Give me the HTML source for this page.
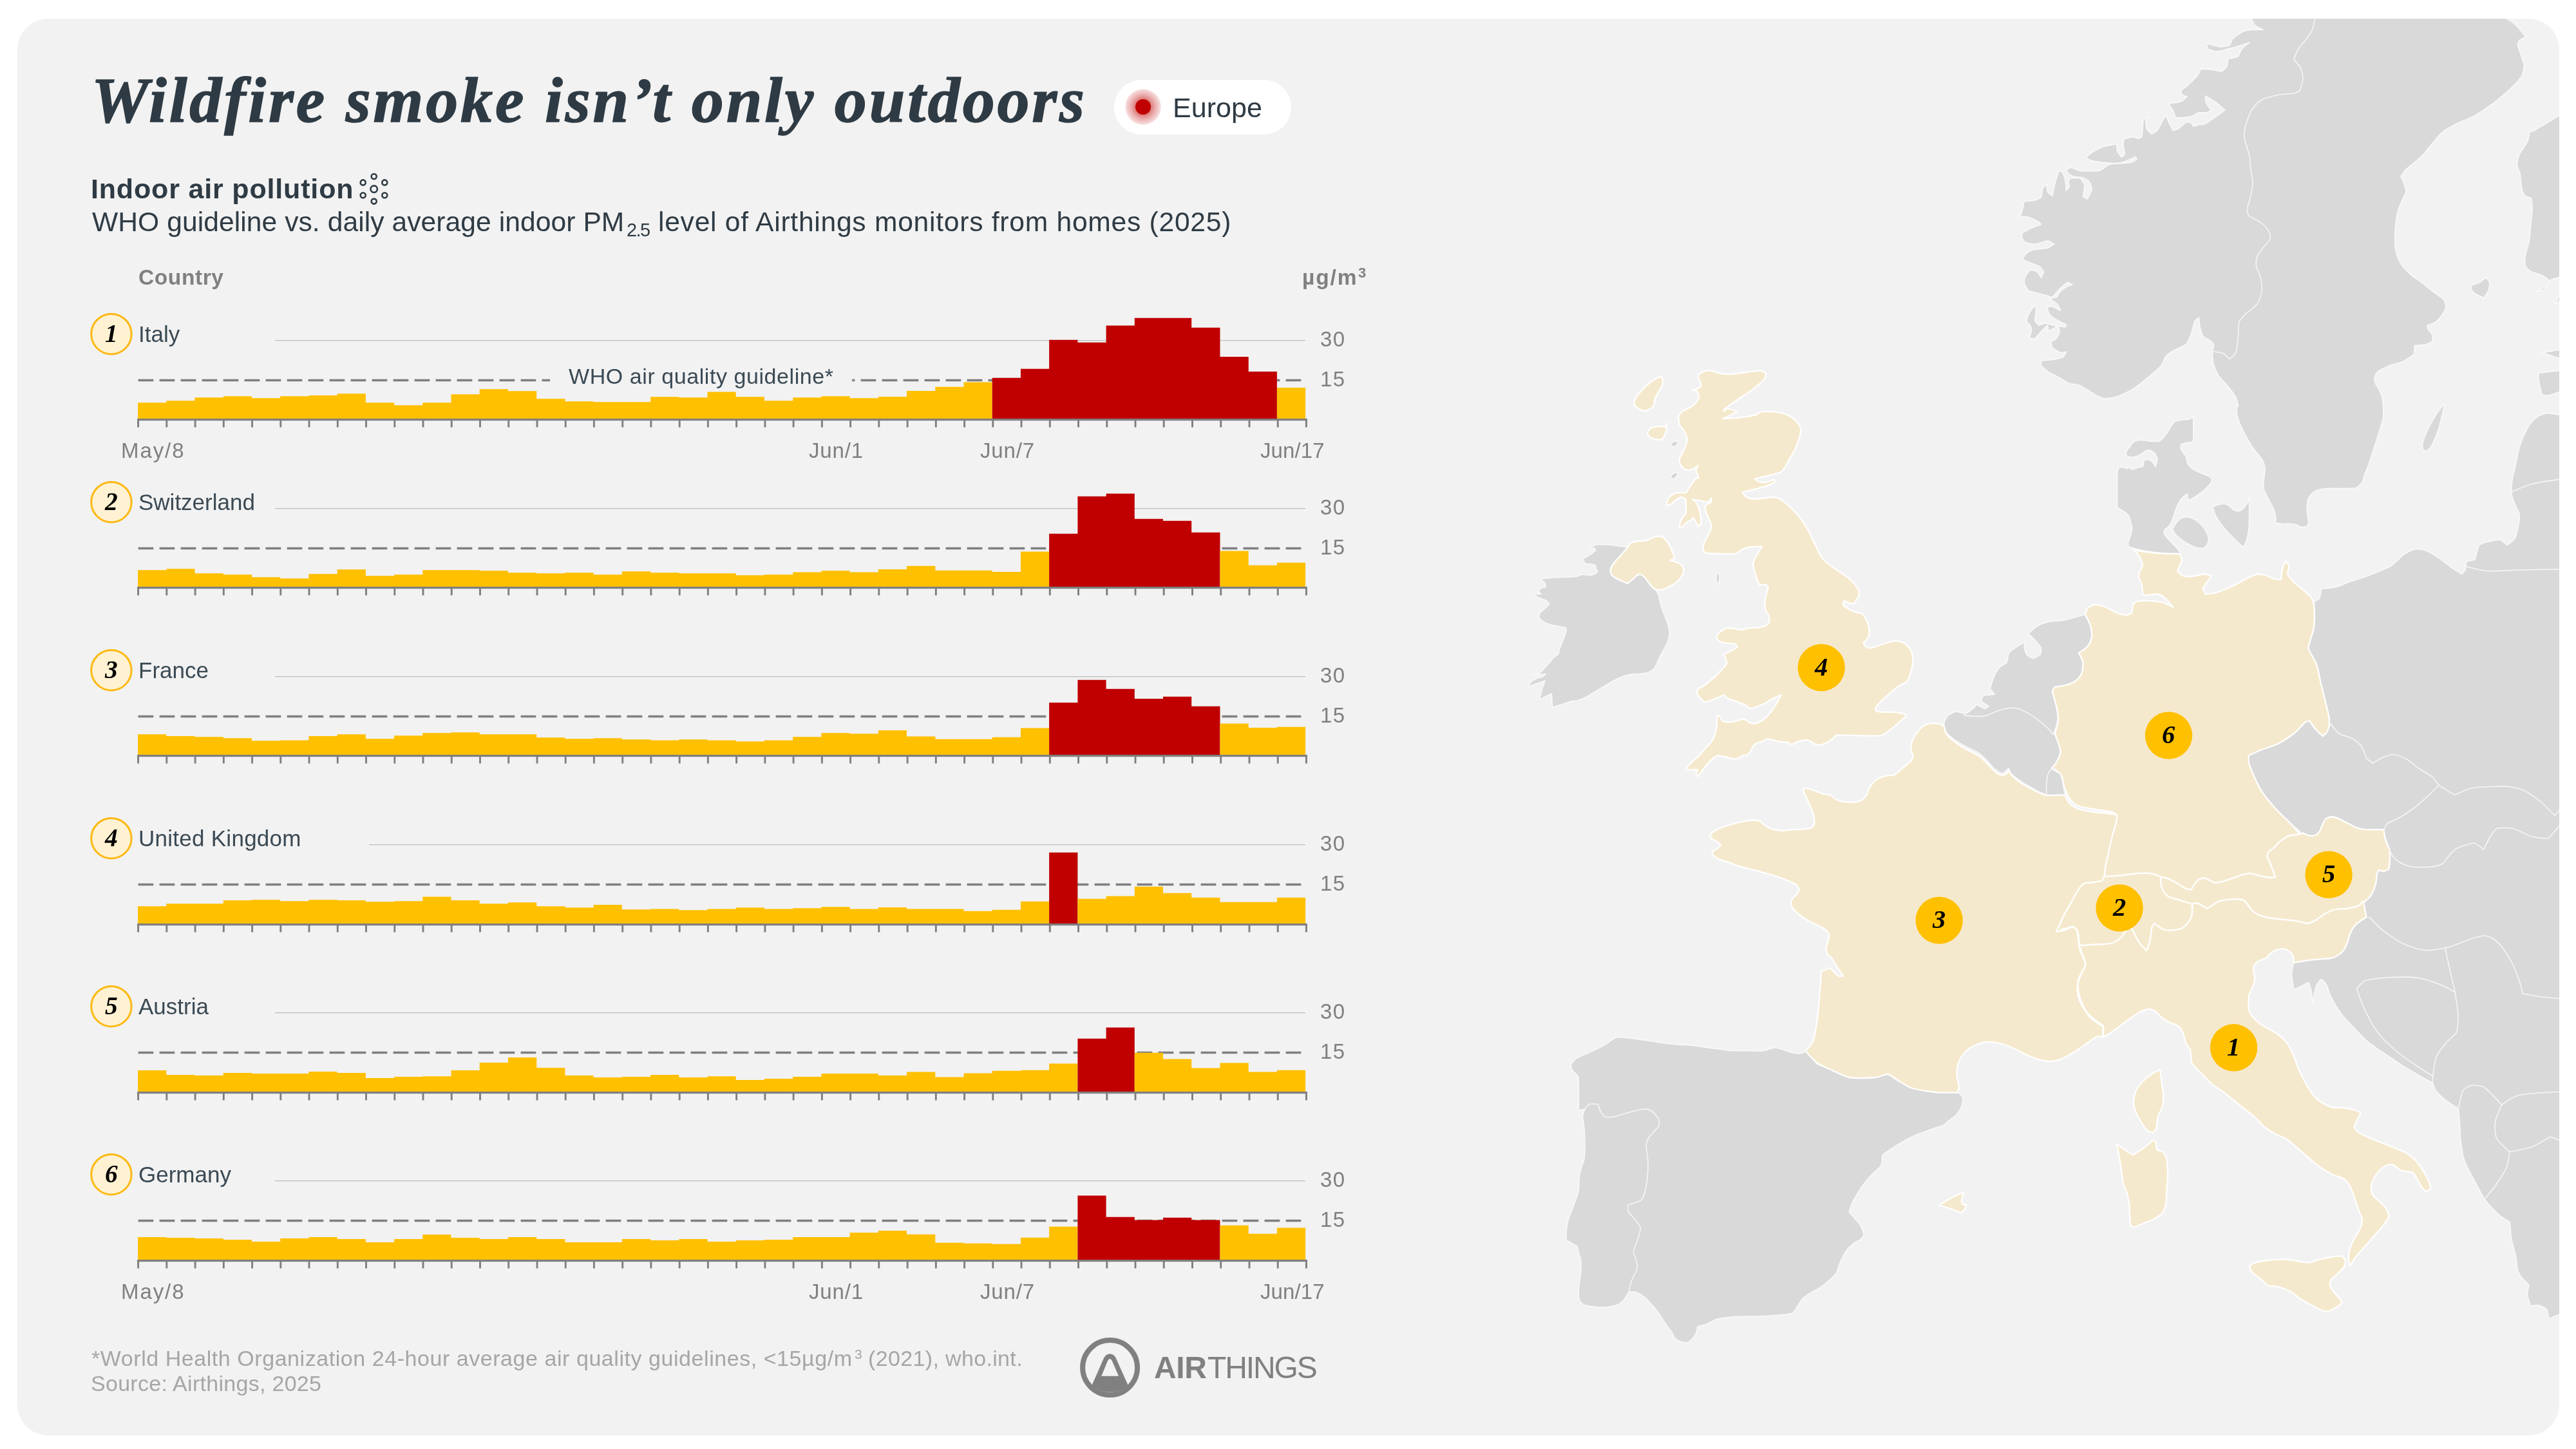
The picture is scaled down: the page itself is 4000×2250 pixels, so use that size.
<!DOCTYPE html>
<html><head><meta charset="utf-8"><title>Wildfire smoke isn’t only outdoors</title>
<style>
html,body{margin:0;padding:0;background:#fff;}
body{width:4000px;height:2250px;position:relative;overflow:hidden;font-family:"Liberation Sans",sans-serif;}
#card{position:absolute;left:27px;top:29px;width:3947px;height:2200px;border-radius:48px;background:#F2F2F2;overflow:hidden;}
.t{position:absolute;white-space:nowrap;line-height:1;will-change:transform;}
svg{position:absolute;left:0;top:0;}
sup,sub{line-height:0;}
</style></head><body>
<div id="card">
<svg id="map" width="3947" height="2200" viewBox="27 29 3947 2200">
<g stroke="#F8F8F8" stroke-width="1.8" stroke-linejoin="round">
<path d="M3496.0 29.0C3496.8 31.1 3499.9 38.0 3502.0 40.0C3504.1 42.0 3514.0 46.0 3514.0 46.0C3514.0 46.0 3493.6 45.5 3487.0 47.5C3480.6 49.4 3470.3 57.1 3467.0 60.0C3464.8 62.0 3462.9 69.5 3462.0 70.0C3461.1 70.6 3451.8 72.9 3447.0 72.5C3441.3 72.0 3426.0 67.0 3426.0 67.0C3426.0 67.0 3427.8 75.8 3428.0 76.0C3428.3 76.2 3438.0 80.2 3442.0 80.0C3447.4 79.7 3458.7 76.3 3467.0 74.0C3475.5 71.7 3493.0 66.0 3493.0 66.0C3493.0 66.0 3485.0 71.4 3482.0 75.0C3478.9 78.7 3476.0 87.0 3474.5 88.0C3473.0 89.0 3459.5 91.0 3459.5 91.0C3459.5 91.0 3459.1 100.3 3458.0 102.5C3456.9 104.7 3450.4 110.8 3449.5 111.0C3448.5 111.2 3437.4 108.2 3432.0 107.5C3427.0 106.9 3417.0 107.0 3417.0 107.0C3417.0 107.0 3414.3 114.4 3412.0 117.5C3409.1 121.3 3403.8 126.1 3399.5 130.0C3395.2 133.9 3386.0 141.0 3386.0 141.0C3386.0 141.0 3388.8 147.3 3389.5 148.0C3390.2 148.7 3396.0 150.0 3396.0 150.0C3396.0 150.0 3390.0 156.4 3387.0 157.5C3383.0 159.0 3367.0 161.0 3367.0 161.0C3367.0 161.0 3372.7 168.8 3374.5 172.5C3376.1 175.8 3378.0 183.0 3378.0 183.0C3378.0 183.0 3387.6 183.0 3392.0 182.5C3396.2 182.0 3400.8 181.2 3404.5 180.0C3408.0 178.8 3411.2 175.7 3414.5 175.0C3417.9 174.3 3424.5 175.5 3427.0 175.0C3428.9 174.6 3433.5 171.0 3433.5 171.0C3433.5 171.0 3427.3 163.3 3426.0 160.0C3424.7 156.9 3424.5 149.0 3424.5 149.0C3424.5 149.0 3437.0 156.3 3442.0 160.0C3446.5 163.3 3454.5 171.0 3454.5 171.0C3454.5 171.0 3432.1 187.7 3425.5 191.5C3422.3 193.4 3417.8 193.2 3414.5 194.0C3411.7 194.7 3406.0 196.0 3406.0 196.0C3406.0 196.0 3402.4 190.2 3402.0 190.0C3401.6 189.8 3395.9 189.3 3394.5 190.0C3392.4 191.0 3385.3 197.9 3382.0 200.0C3379.8 201.4 3374.5 202.5 3374.5 202.5C3374.5 202.5 3369.8 193.9 3368.0 190.0C3366.3 186.4 3363.5 179.0 3363.5 179.0C3363.5 179.0 3359.7 184.6 3358.0 187.5C3355.7 191.4 3352.0 199.5 3349.5 202.5C3347.6 204.8 3341.0 208.0 3341.0 208.0C3341.0 208.0 3334.4 202.2 3333.5 200.0C3332.5 197.5 3331.9 186.1 3332.0 185.0C3332.1 184.4 3336.0 181.0 3336.0 181.0C3336.0 181.0 3328.4 185.2 3328.0 186.0C3327.6 186.9 3327.3 195.6 3327.0 200.0C3326.7 204.2 3326.0 212.4 3326.0 212.5C3326.0 212.6 3320.9 215.0 3319.5 215.0C3318.1 215.0 3314.0 212.4 3312.0 212.5C3309.3 212.6 3298.0 216.0 3298.0 216.0C3298.0 216.0 3296.8 222.0 3297.0 225.0C3297.2 228.8 3299.6 238.2 3299.5 239.0C3299.4 239.6 3294.5 244.0 3294.5 244.0C3294.5 244.0 3289.0 237.7 3288.0 235.0C3287.0 232.3 3287.0 223.5 3287.0 223.5C3287.0 223.5 3273.2 225.4 3267.0 227.5C3260.8 229.6 3254.2 233.1 3249.5 236.0C3245.5 238.5 3238.5 245.0 3238.5 245.0C3238.5 245.0 3245.6 249.1 3249.5 250.0C3255.1 251.3 3264.9 252.5 3272.0 253.0C3278.7 253.5 3285.5 254.4 3292.0 253.0C3299.3 251.4 3316.0 243.5 3316.0 243.5C3316.0 243.5 3318.0 247.5 3318.0 247.5C3318.0 247.5 3311.0 251.8 3307.0 252.5C3300.0 253.8 3281.6 253.8 3276.0 255.0C3273.0 255.6 3269.8 259.3 3267.0 261.0C3264.6 262.5 3261.9 264.7 3259.5 265.0C3254.1 265.6 3236.6 265.8 3229.5 265.0C3225.0 264.5 3219.0 260.2 3217.0 260.0C3215.3 259.8 3208.5 263.0 3208.5 263.0C3208.5 263.0 3210.7 268.7 3212.0 270.0C3213.3 271.3 3216.8 273.3 3219.5 274.0C3223.2 275.0 3230.7 274.7 3234.5 276.0C3238.0 277.2 3243.2 280.7 3244.5 282.5C3245.8 284.3 3248.3 292.7 3248.0 295.0C3247.7 297.4 3241.0 309.0 3241.0 309.0C3241.0 309.0 3234.5 305.0 3234.5 305.0C3234.5 305.0 3237.4 290.0 3237.0 287.5C3236.6 285.2 3230.4 276.9 3229.5 276.5C3228.6 276.1 3214.5 276.5 3214.5 276.5C3214.5 276.5 3212.2 280.7 3212.0 282.5C3211.8 284.3 3213.3 288.9 3213.0 290.0C3212.7 291.1 3208.5 296.0 3208.5 296.0C3208.5 296.0 3208.1 284.9 3207.0 280.0C3206.0 275.3 3202.5 267.2 3202.0 266.5C3201.7 266.1 3197.0 265.0 3197.0 265.0C3197.0 265.0 3192.7 278.5 3191.0 285.0C3189.4 291.3 3187.0 304.0 3187.0 304.0C3187.0 304.0 3180.2 299.0 3179.5 297.5C3178.8 296.0 3178.5 286.0 3178.5 286.0C3178.5 286.0 3172.9 290.5 3172.0 292.5C3170.9 294.9 3170.1 305.1 3169.5 306.0C3168.9 306.9 3163.1 310.1 3159.5 311.0C3155.1 312.1 3143.0 312.5 3143.0 312.5C3143.0 312.5 3141.8 319.2 3141.0 322.5C3140.0 326.4 3137.0 336.0 3137.0 336.0C3137.0 336.0 3147.4 336.7 3152.0 338.0C3156.4 339.3 3161.6 342.2 3164.5 344.0C3166.4 345.2 3169.5 348.5 3169.5 348.5C3169.5 348.5 3156.9 352.7 3152.0 355.0C3147.7 357.0 3140.4 362.0 3140.0 362.5C3139.7 362.9 3139.5 368.5 3140.0 370.0C3140.5 371.5 3143.3 375.4 3144.5 376.0C3146.3 376.8 3154.8 379.3 3159.5 379.0C3164.9 378.7 3176.6 374.0 3179.5 374.0C3181.7 374.0 3189.5 379.0 3189.5 379.0C3189.5 379.0 3183.1 384.0 3179.5 385.0C3174.3 386.5 3162.6 386.5 3157.0 388.0C3153.0 389.1 3148.5 391.8 3146.0 394.0C3143.6 396.1 3140.0 403.0 3140.0 403.0C3140.0 403.0 3148.0 406.4 3152.0 408.0C3156.5 409.8 3164.1 412.1 3167.0 414.0C3169.4 415.6 3173.5 422.3 3173.5 422.5C3173.5 422.7 3169.5 431.0 3169.5 431.0C3169.5 431.0 3163.6 422.1 3162.0 421.0C3160.5 419.9 3152.0 419.0 3152.0 419.0C3152.0 419.0 3145.7 427.0 3144.5 430.0C3143.4 432.6 3142.9 437.7 3143.5 440.0C3144.1 442.5 3148.3 450.4 3150.0 451.5C3151.8 452.7 3161.3 454.5 3167.0 456.0C3173.2 457.7 3186.7 461.6 3187.0 461.5C3187.3 461.4 3195.6 451.3 3199.5 447.5C3202.9 444.2 3210.4 438.5 3210.5 438.5C3210.6 438.5 3218.0 442.0 3218.0 442.0C3218.0 442.0 3210.3 444.5 3207.0 446.5C3203.7 448.5 3200.0 451.7 3198.0 454.0C3196.4 455.9 3195.3 460.5 3194.5 461.0C3193.5 461.6 3182.0 464.0 3182.0 464.0C3182.0 464.0 3192.1 469.9 3194.5 472.5C3196.6 474.8 3199.5 482.5 3199.5 482.5C3199.5 482.5 3189.8 476.8 3187.0 476.0C3184.8 475.4 3178.5 476.5 3178.5 476.5C3178.5 476.5 3180.3 485.1 3182.0 487.5C3183.7 490.0 3188.3 493.7 3192.0 496.0C3196.4 498.8 3208.5 504.0 3208.5 504.0C3208.5 504.0 3207.0 508.0 3207.0 508.0C3207.0 508.0 3195.7 505.9 3194.5 506.0C3193.6 506.1 3191.4 508.9 3189.5 510.0C3187.2 511.3 3180.5 514.0 3180.5 514.0C3180.5 514.0 3179.5 505.0 3179.5 505.0C3179.5 505.0 3172.8 511.6 3169.5 515.0C3166.2 518.5 3160.3 525.6 3159.5 526.0C3158.8 526.4 3151.0 525.0 3151.0 525.0C3151.0 525.0 3154.4 514.9 3154.5 512.5C3154.6 510.6 3153.1 506.9 3152.0 505.0C3150.9 503.2 3147.1 500.4 3147.0 500.0C3146.9 499.5 3147.9 492.4 3149.5 489.0C3151.6 484.7 3159.5 474.0 3159.5 474.0C3159.5 474.0 3162.0 478.2 3162.0 480.0C3162.1 483.3 3159.7 495.5 3160.0 497.5C3160.2 499.0 3166.0 505.0 3166.0 505.0C3166.0 505.0 3173.9 501.8 3177.0 502.0C3181.1 502.3 3195.6 506.8 3196.0 507.0C3196.3 507.2 3198.2 513.3 3198.0 515.0C3197.7 516.9 3195.2 522.9 3193.5 525.0C3191.8 527.1 3184.5 531.0 3184.5 531.0C3184.5 531.0 3185.9 538.8 3187.0 540.0C3188.3 541.4 3197.4 546.9 3199.5 547.5C3201.2 548.0 3208.5 546.0 3208.5 546.0C3208.5 546.0 3205.5 553.3 3204.5 554.0C3203.4 554.8 3196.3 556.8 3192.0 557.5C3186.2 558.5 3169.5 560.0 3169.5 560.0C3169.5 560.0 3168.9 566.6 3169.5 567.5C3170.3 568.7 3176.4 574.7 3180.5 577.5C3185.1 580.6 3191.8 583.1 3197.0 586.0C3202.1 588.8 3206.8 593.0 3212.0 595.0C3217.1 597.0 3223.0 596.2 3228.0 598.0C3233.0 599.8 3237.4 603.3 3242.0 606.0C3246.8 608.8 3252.8 612.8 3257.0 615.0C3260.2 616.7 3264.1 618.9 3267.0 619.0C3271.1 619.1 3280.6 618.1 3287.0 616.0C3294.5 613.5 3304.1 608.9 3312.0 604.0C3320.3 598.8 3329.7 591.1 3337.0 585.0C3343.6 579.5 3351.8 572.5 3356.0 567.5C3359.0 563.9 3359.4 558.6 3362.0 555.0C3364.6 551.4 3368.2 548.4 3372.0 546.0C3377.4 542.7 3391.2 537.8 3394.5 535.0C3397.2 532.6 3400.0 525.2 3402.0 520.0C3404.2 514.0 3406.5 502.2 3408.0 499.0C3408.9 497.1 3414.5 493.5 3414.5 493.5C3414.5 493.5 3415.0 502.9 3416.0 507.5C3417.1 512.3 3419.5 520.5 3421.0 522.5C3422.4 524.4 3429.2 526.8 3432.0 529.0C3434.4 530.9 3437.8 535.3 3438.0 536.0C3438.2 536.7 3435.6 542.6 3435.5 546.0C3435.3 550.8 3435.5 558.9 3437.0 565.0C3438.5 571.1 3441.1 577.2 3444.5 582.5C3448.2 588.3 3454.9 594.2 3459.5 600.0C3463.9 605.6 3469.3 612.3 3472.0 617.5C3474.1 621.6 3475.5 631.0 3475.5 631.0C3475.5 631.0 3474.7 627.2 3474.7 627.2C3474.7 627.2 3473.3 631.9 3473.1 634.4C3472.9 637.0 3472.9 640.4 3473.4 643.3C3474.0 646.6 3475.2 650.6 3476.5 654.1C3478.0 658.1 3480.3 663.2 3482.4 667.6C3484.7 672.3 3487.6 677.9 3490.5 682.8C3493.3 687.7 3496.5 693.0 3499.5 697.2C3502.2 701.0 3505.9 704.5 3508.4 707.9C3510.7 711.1 3513.3 714.5 3514.7 717.8C3516.0 720.9 3516.7 724.3 3516.9 727.7C3517.1 731.1 3516.3 734.9 3516.0 738.4C3515.6 742.0 3514.8 745.6 3514.7 749.2C3514.6 752.8 3514.3 756.5 3515.2 760.0C3516.3 763.9 3518.9 768.4 3521.0 772.5C3523.1 776.9 3526.2 781.8 3528.2 786.0C3529.9 789.8 3531.7 794.5 3532.7 797.7C3533.4 800.0 3533.8 802.5 3533.9 804.8C3534.0 807.2 3533.2 812.0 3533.2 812.0C3533.2 812.0 3540.6 813.2 3544.3 813.5C3548.6 813.7 3554.8 813.1 3558.7 813.5C3561.7 813.7 3565.3 814.8 3567.6 815.6C3569.5 816.3 3571.5 818.1 3573.0 818.3C3574.7 818.5 3580.2 817.8 3581.1 817.4C3581.9 817.0 3584.5 813.9 3584.7 812.9C3584.9 811.7 3584.1 806.3 3583.8 803.1C3583.4 799.0 3582.4 793.2 3582.4 788.7C3582.4 784.5 3582.7 779.5 3583.8 776.1C3584.8 773.0 3587.0 769.4 3589.2 767.2C3591.3 765.0 3594.9 762.7 3598.2 761.4C3601.6 760.0 3606.0 759.0 3610.0 758.7C3619.8 758.2 3650.9 759.0 3657.0 758.0C3659.9 757.5 3666.1 751.7 3668.0 749.0C3669.9 746.3 3670.5 740.6 3672.0 736.5C3673.5 732.3 3675.6 728.3 3677.0 724.0C3681.7 709.8 3696.2 668.3 3700.0 651.0C3702.2 640.9 3700.4 627.7 3699.5 620.0C3698.9 614.8 3696.2 608.8 3694.5 605.0C3693.3 602.3 3690.7 600.3 3689.5 597.5C3688.2 594.6 3686.8 589.4 3687.0 587.5C3687.2 585.6 3690.0 579.1 3692.0 577.5C3694.8 575.2 3704.4 570.2 3711.0 567.5C3717.7 564.8 3725.8 563.9 3732.0 561.0C3737.9 558.2 3746.9 551.6 3748.0 550.0C3749.0 548.6 3749.5 536.5 3749.5 536.5C3749.5 536.5 3762.4 536.1 3767.0 535.0C3770.6 534.1 3776.9 530.1 3777.0 530.0C3777.1 529.9 3777.8 522.1 3777.0 520.0C3776.2 517.8 3770.3 511.7 3769.5 510.0C3769.0 509.0 3769.5 505.0 3769.5 505.0C3769.5 505.0 3778.7 502.4 3782.0 500.0C3785.4 497.6 3789.3 492.8 3792.0 489.0C3794.5 485.5 3797.8 479.6 3798.0 477.5C3798.2 475.4 3796.2 467.2 3794.5 465.0C3792.5 462.5 3784.4 457.8 3779.5 454.0C3774.1 449.8 3767.9 444.6 3762.0 440.0C3755.8 435.2 3747.8 430.4 3742.0 425.0C3736.4 419.8 3730.7 414.1 3727.0 407.5C3723.3 400.9 3720.6 392.8 3719.5 385.0C3718.2 376.2 3718.9 364.2 3719.5 355.0C3720.0 346.6 3721.3 337.1 3723.0 330.0C3724.4 323.9 3727.3 317.9 3729.5 312.5C3731.5 307.4 3735.7 300.6 3736.0 297.5C3736.3 294.4 3733.3 286.4 3732.0 282.5C3731.0 279.5 3728.0 274.2 3728.0 274.0C3728.1 273.8 3733.5 265.9 3737.0 262.5C3742.2 257.4 3752.8 250.2 3759.5 243.5C3765.9 237.1 3771.2 229.1 3777.0 222.5C3782.6 216.1 3787.8 209.2 3794.5 204.0C3801.2 198.8 3809.3 194.9 3817.0 191.0C3824.9 187.0 3834.1 184.5 3842.0 180.0C3851.2 174.8 3862.8 166.8 3872.0 160.0C3880.7 153.5 3889.9 145.7 3897.0 139.0C3903.3 133.1 3911.2 125.4 3914.5 120.0C3917.3 115.4 3919.5 107.0 3919.5 102.5C3919.5 98.0 3916.2 90.4 3914.5 85.0C3913.0 80.0 3909.8 72.5 3909.5 70.0C3909.3 68.3 3911.1 63.4 3912.0 62.5C3913.0 61.5 3922.0 57.5 3922.0 57.5C3922.0 57.5 3917.3 50.6 3914.5 47.5C3911.2 43.8 3906.8 38.4 3902.0 35.0C3896.6 31.2 3888.7 25.2 3882.0 25.0C3821.4 23.5 3496.0 25.0 3496.0 25.0C3496.0 25.0 3495.6 27.9 3496.0 29.0Z" fill="#D9D9D9"/>
<path d="M3977.0 177.5C3977.0 177.5 3959.5 188.1 3952.0 192.5C3945.4 196.4 3935.3 202.4 3932.0 204.0C3931.0 204.5 3928.0 204.0 3928.0 204.0C3928.0 204.0 3926.7 215.0 3924.5 220.0C3921.8 226.0 3914.7 234.2 3912.0 240.0C3909.9 244.7 3908.4 250.9 3908.5 255.0C3908.6 259.1 3912.0 264.9 3913.0 270.0C3914.2 276.7 3914.6 289.4 3916.0 295.0C3916.9 298.6 3920.7 303.9 3922.0 305.0C3923.2 306.0 3930.5 307.5 3930.5 307.5C3930.5 307.5 3932.1 319.1 3932.0 325.0C3931.8 332.1 3930.3 341.7 3929.5 350.0C3928.7 358.3 3928.4 367.1 3927.0 375.0C3925.6 382.6 3922.0 391.2 3921.0 397.5C3920.2 402.4 3920.3 410.4 3921.0 412.5C3921.7 414.5 3926.4 419.7 3929.5 421.5C3933.3 423.7 3942.2 425.2 3947.0 427.5C3951.0 429.4 3958.0 435.0 3958.0 435.0C3958.0 435.0 3956.9 441.6 3956.0 442.5C3954.4 444.0 3939.5 452.5 3939.5 452.5C3939.5 452.5 3949.6 451.2 3951.0 450.0C3952.6 448.6 3958.0 436.9 3960.5 435.0C3963.0 433.1 3977.0 430.0 3977.0 430.0C3977.0 430.0 3977.0 177.5 3977.0 177.5Z" fill="#D9D9D9"/>
<path d="M3977.0 452.5C3977.0 452.5 3967.0 472.5 3967.0 472.5C3967.0 472.5 3976.5 466.0 3977.0 465.0C3977.5 464.0 3977.0 452.5 3977.0 452.5Z" fill="#D9D9D9"/>
<path d="M3947.0 547.5C3947.0 547.5 3977.0 542.5 3977.0 542.5C3977.0 542.5 3977.0 557.5 3977.0 557.5C3977.0 557.5 3947.0 547.5 3947.0 547.5Z" fill="#D9D9D9"/>
<path d="M3942.0 579.0C3942.0 579.0 3977.0 575.0 3977.0 575.0C3977.0 575.0 3977.0 607.5 3977.0 607.5C3977.0 607.5 3961.5 613.3 3957.0 614.0C3954.0 614.5 3947.0 612.5 3947.0 612.5C3947.0 612.5 3942.8 595.6 3942.0 590.0C3941.5 586.4 3942.0 579.0 3942.0 579.0Z" fill="#D9D9D9"/>
<path d="M3796.0 627.5C3796.0 627.5 3790.2 654.6 3787.0 665.0C3784.4 673.6 3779.9 684.2 3777.0 690.0C3775.1 693.7 3769.8 699.8 3769.5 700.0C3769.2 700.2 3762.0 699.0 3762.0 699.0C3762.0 699.0 3761.1 691.2 3762.0 687.5C3763.2 682.2 3766.5 673.9 3769.5 667.5C3772.8 660.4 3778.2 651.1 3782.0 645.0C3785.0 640.1 3789.7 633.9 3792.0 631.0C3793.1 629.6 3796.0 627.5 3796.0 627.5Z" fill="#D9D9D9"/>
<path d="M3838.0 442.5C3838.1 442.4 3846.0 440.9 3849.5 439.0C3853.1 437.1 3859.5 431.0 3859.5 431.0C3859.5 431.0 3865.2 436.3 3865.5 437.5C3865.9 438.8 3865.7 446.4 3864.5 450.0C3863.2 453.8 3857.0 462.5 3857.0 462.5C3857.0 462.5 3846.0 458.1 3843.0 456.0C3840.6 454.3 3837.3 449.4 3837.0 448.5C3836.7 447.7 3837.9 442.6 3838.0 442.5Z" fill="#D9D9D9"/>
<path d="M3405.8 646.9C3405.8 646.9 3406.1 677.9 3405.8 682.8C3405.7 683.9 3404.0 686.2 3403.4 686.4C3402.6 686.7 3396.3 687.2 3393.6 687.8C3391.4 688.3 3387.6 689.7 3387.3 690.0C3387.0 690.3 3385.7 694.4 3385.9 695.4C3386.0 696.4 3387.8 699.7 3389.1 701.7C3390.5 703.7 3393.6 706.1 3394.5 707.9C3395.3 709.7 3395.1 712.9 3395.7 715.1C3396.3 717.3 3396.9 719.7 3398.1 721.4C3399.4 723.4 3401.9 726.0 3404.3 727.7C3407.2 729.7 3411.4 731.7 3415.1 733.4C3419.3 735.4 3426.2 737.6 3429.5 739.3C3431.5 740.4 3434.8 743.8 3434.8 743.8C3434.8 743.8 3434.1 748.4 3433.1 750.1C3431.7 752.3 3428.5 755.7 3425.9 758.2C3422.9 761.0 3418.7 764.5 3415.1 767.2C3411.7 769.7 3407.3 772.4 3404.3 774.0C3402.1 775.2 3397.2 776.7 3397.2 776.7C3397.2 776.7 3396.6 767.2 3396.6 767.2C3396.6 767.2 3391.9 769.8 3390.0 771.6C3387.8 773.7 3385.5 776.8 3383.7 779.7C3381.9 782.7 3380.5 786.2 3379.2 789.6C3377.9 793.0 3376.8 796.9 3375.6 800.4C3374.5 803.7 3373.4 807.4 3372.0 810.2C3370.8 812.8 3369.2 815.5 3367.5 817.4C3366.0 819.2 3363.2 820.6 3362.2 821.9C3361.3 823.0 3360.3 825.6 3360.4 826.4C3360.4 827.2 3361.8 830.8 3363.1 832.7C3364.7 835.1 3367.8 838.1 3370.2 840.7C3372.9 843.6 3376.8 847.1 3379.2 849.7C3381.2 851.9 3383.5 854.7 3384.6 856.5C3385.3 857.7 3385.9 860.5 3385.9 860.5C3385.9 860.5 3366.9 860.1 3357.7 859.2C3348.7 858.4 3338.2 856.8 3330.8 855.5C3324.7 854.4 3317.1 852.3 3312.8 851.1C3310.1 850.4 3304.7 848.3 3304.7 848.3C3304.7 848.3 3304.4 844.4 3304.7 842.5C3305.2 840.1 3306.5 836.6 3307.4 833.6C3308.3 830.6 3309.7 827.4 3310.1 824.6C3310.5 821.9 3310.5 819.2 3310.1 816.5C3309.7 813.7 3308.2 810.1 3307.4 807.5C3306.8 805.4 3306.6 802.8 3305.6 801.3C3304.6 799.6 3302.2 797.4 3300.2 795.9C3298.2 794.2 3295.2 792.9 3293.1 791.4C3291.2 790.0 3287.8 787.7 3287.7 786.9C3287.4 783.5 3287.4 744.9 3287.7 734.9C3287.8 732.1 3289.3 727.0 3289.5 726.8C3289.7 726.5 3293.5 724.9 3294.9 725.0C3296.5 725.1 3303.4 727.7 3303.8 727.7C3304.1 727.7 3307.1 725.0 3307.1 725.0C3307.1 725.0 3310.1 729.1 3310.1 729.1C3310.1 729.1 3317.1 726.7 3320.0 725.9C3322.5 725.2 3327.5 724.4 3327.5 724.4C3327.5 724.4 3328.5 716.9 3329.0 716.0C3329.3 715.3 3332.9 713.0 3333.4 713.0C3334.0 712.9 3338.1 714.1 3339.7 715.1C3341.4 716.1 3343.0 718.0 3344.2 719.6C3345.4 721.1 3346.9 724.6 3346.9 724.6C3346.9 724.6 3349.4 717.7 3349.6 715.1C3349.8 712.9 3349.2 709.8 3348.3 707.9C3347.5 706.0 3344.9 702.9 3343.3 701.7C3341.7 700.5 3337.5 699.0 3336.1 699.0C3334.8 698.9 3331.8 700.0 3329.9 701.1C3327.6 702.4 3325.4 705.2 3322.7 706.5C3319.8 707.9 3316.0 709.3 3312.8 709.7C3309.8 710.2 3304.4 709.4 3303.8 709.2C3303.4 709.0 3301.2 705.8 3301.1 705.2C3301.1 704.6 3302.0 700.8 3302.9 699.0C3303.9 697.1 3306.0 695.4 3307.4 693.6C3308.9 691.6 3310.2 688.7 3311.9 687.3C3313.6 685.9 3316.7 684.2 3319.1 683.7C3321.6 683.2 3325.7 683.5 3329.0 683.7C3332.4 683.9 3336.1 684.8 3339.7 685.1C3343.3 685.4 3348.2 685.8 3350.5 685.5C3352.2 685.3 3354.4 684.1 3355.9 682.8C3358.0 681.0 3360.9 677.6 3363.1 674.7C3365.3 671.7 3367.5 667.7 3369.3 664.9C3370.8 662.5 3372.2 659.5 3373.8 657.7C3375.3 656.0 3377.3 654.5 3379.2 653.7C3381.4 652.8 3385.2 652.4 3388.2 651.9C3391.5 651.5 3396.2 651.7 3399.0 650.9C3401.3 650.2 3405.8 646.9 3405.8 646.9Z" fill="#D9D9D9"/>
<path d="M3373.8 821.0C3374.5 819.6 3377.1 814.7 3379.2 812.0C3381.3 809.4 3384.3 806.1 3386.4 804.8C3388.5 803.6 3392.7 802.7 3395.4 802.7C3398.0 802.7 3401.6 803.5 3404.3 804.8C3407.6 806.4 3412.0 809.3 3415.1 812.0C3418.2 814.6 3420.9 817.7 3423.2 821.0C3425.4 824.3 3427.6 828.6 3428.6 831.8C3429.4 834.6 3429.5 838.4 3429.1 840.7C3428.7 843.0 3427.0 846.5 3425.9 847.9C3424.8 849.2 3421.8 851.3 3420.5 851.5C3419.0 851.8 3414.4 851.4 3411.5 850.6C3407.9 849.6 3403.0 847.4 3399.0 845.2C3394.8 843.0 3390.0 839.8 3386.4 837.1C3383.2 834.7 3379.5 831.5 3377.4 829.1C3375.8 827.3 3374.3 823.9 3373.8 822.8C3373.6 822.3 3373.6 821.4 3373.8 821.0Z" fill="#D9D9D9"/>
<path d="M3435.7 786.9C3435.7 786.9 3442.5 784.1 3445.6 783.3C3448.5 782.6 3452.4 782.2 3454.6 782.4C3456.5 782.6 3459.0 783.8 3460.9 785.1C3463.1 786.6 3465.7 790.0 3468.0 791.4C3470.1 792.6 3473.9 793.8 3475.2 793.7C3476.5 793.6 3480.7 792.0 3482.4 790.5C3484.3 788.9 3487.0 784.8 3488.7 782.4C3490.1 780.4 3491.7 778.1 3492.3 776.1C3492.9 774.1 3492.6 769.0 3492.6 769.0C3492.6 769.0 3492.8 798.9 3492.6 808.4C3492.5 814.4 3492.2 820.8 3491.4 826.4C3490.6 831.5 3489.2 837.7 3487.8 841.6C3486.7 844.6 3482.8 849.7 3482.8 849.7C3482.8 849.7 3470.6 838.2 3465.4 832.7C3460.4 827.5 3455.0 821.6 3451.0 816.5C3447.4 812.0 3443.5 806.5 3441.1 802.2C3439.1 798.5 3437.5 793.0 3436.6 790.5C3436.2 789.3 3435.7 786.9 3435.7 786.9Z" fill="#D9D9D9"/>
<path d="M3238.0 954.0C3238.0 954.0 3213.8 961.2 3204.5 963.0C3197.1 964.5 3188.7 963.6 3182.0 965.0C3175.9 966.3 3169.9 968.4 3164.5 971.5C3159.1 974.7 3149.5 984.0 3149.5 984.0C3149.5 984.0 3158.7 992.8 3162.0 996.5C3164.8 999.6 3169.0 1004.9 3169.5 1006.5C3170.0 1008.0 3168.6 1015.7 3168.0 1016.5C3167.4 1017.3 3157.5 1022.5 3157.0 1022.5C3156.5 1022.5 3148.3 1018.2 3147.0 1016.5C3145.7 1014.8 3143.1 1006.0 3143.0 1004.0C3142.9 1002.4 3146.0 996.5 3146.0 996.5C3146.0 996.5 3136.4 1001.1 3132.0 1004.0C3127.6 1006.9 3121.2 1011.4 3119.5 1014.0C3117.8 1016.6 3117.3 1027.1 3116.0 1029.0C3114.7 1030.9 3107.4 1033.5 3104.5 1036.5C3101.6 1039.5 3098.9 1044.5 3097.0 1049.0C3094.7 1054.4 3090.5 1067.7 3090.5 1069.0C3090.5 1070.0 3097.0 1078.0 3097.0 1078.0C3097.0 1078.0 3079.8 1079.8 3079.5 1080.0C3079.3 1080.1 3076.0 1089.0 3076.0 1089.0C3076.0 1089.0 3088.0 1096.5 3088.0 1096.5C3088.0 1096.5 3082.3 1100.5 3082.0 1100.5C3081.7 1100.5 3069.5 1094.0 3069.5 1094.0C3069.5 1094.0 3064.8 1099.3 3062.0 1101.5C3059.1 1103.8 3053.9 1107.7 3052.0 1108.0C3049.9 1108.3 3039.8 1104.6 3037.0 1105.0C3034.2 1105.4 3026.5 1109.4 3024.5 1111.5C3022.5 1113.6 3018.7 1121.7 3018.5 1124.0C3018.3 1126.3 3020.1 1133.4 3022.0 1136.5C3023.9 1139.6 3028.2 1143.7 3032.0 1146.5C3037.0 1150.2 3045.3 1155.2 3052.0 1159.0C3058.5 1162.7 3066.6 1165.5 3072.0 1169.0C3076.7 1172.0 3080.6 1176.1 3084.5 1180.0C3088.7 1184.2 3092.8 1190.4 3097.0 1194.0C3100.7 1197.2 3109.5 1201.5 3109.5 1201.5C3109.5 1201.5 3118.0 1194.0 3118.0 1194.0C3118.0 1194.0 3121.7 1200.6 3124.5 1203.0C3129.3 1207.2 3139.1 1214.3 3147.0 1219.0C3155.8 1224.2 3167.6 1231.5 3177.0 1234.0C3186.1 1236.4 3207.0 1235.0 3207.0 1235.0C3207.0 1235.0 3206.7 1227.6 3206.0 1224.0C3205.0 1218.8 3203.0 1207.1 3201.0 1204.0C3199.0 1200.9 3186.0 1193.0 3186.0 1193.0C3186.0 1193.0 3192.3 1185.7 3194.5 1181.5C3196.8 1177.1 3199.5 1170.3 3199.5 1166.5C3199.5 1162.6 3195.9 1153.6 3194.5 1149.0C3193.5 1145.6 3190.9 1141.6 3191.0 1139.0C3191.2 1135.3 3195.7 1125.9 3196.0 1119.0C3196.3 1111.9 3194.5 1103.9 3193.0 1096.5C3191.5 1089.0 3187.2 1076.6 3187.0 1074.0C3186.9 1072.5 3190.3 1066.9 3191.0 1066.5C3192.0 1066.0 3201.8 1065.4 3207.0 1064.0C3212.2 1062.6 3218.3 1060.6 3222.0 1058.0C3225.7 1055.4 3230.5 1050.0 3232.0 1046.5C3233.6 1042.9 3235.0 1033.2 3234.5 1029.0C3234.0 1024.8 3228.0 1014.0 3228.0 1014.0C3228.0 1014.0 3239.2 1006.5 3242.0 1003.0C3244.7 999.6 3247.5 993.2 3248.0 989.0C3248.5 984.7 3247.6 977.1 3246.0 971.5C3244.3 965.7 3238.0 954.0 3238.0 954.0Z" fill="#D9D9D9"/>
<path d="M3593.5 934.0C3593.7 933.6 3601.4 930.0 3602.0 929.0C3602.7 927.8 3604.5 914.0 3604.5 914.0C3604.5 914.0 3619.9 913.2 3627.0 911.5C3633.9 909.9 3640.3 906.4 3647.0 904.0C3655.3 901.1 3667.2 897.8 3677.0 894.0C3687.8 889.8 3702.8 884.4 3712.0 879.0C3719.6 874.5 3725.8 865.8 3732.0 861.5C3737.3 857.8 3745.0 853.8 3749.5 853.0C3753.9 852.2 3761.6 853.1 3767.0 855.0C3773.1 857.2 3780.6 862.3 3787.0 866.5C3793.7 870.9 3801.0 877.3 3807.0 881.5C3812.2 885.1 3823.0 891.5 3823.0 891.5C3823.0 891.5 3827.2 886.5 3828.0 884.0C3829.0 881.0 3829.5 871.5 3829.5 871.5C3829.5 871.5 3842.8 869.2 3843.0 869.0C3843.2 868.8 3848.5 847.9 3849.5 846.5C3850.3 845.3 3857.7 842.6 3862.0 841.5C3867.4 840.1 3879.8 837.7 3882.0 838.0C3883.9 838.3 3893.0 846.5 3893.0 846.5C3893.0 846.5 3902.3 839.9 3904.5 836.5C3906.7 833.1 3908.5 826.7 3909.5 821.5C3910.8 815.2 3912.7 804.5 3912.0 799.0C3911.3 793.8 3906.6 787.3 3904.5 781.5C3902.5 775.8 3899.9 770.1 3899.5 764.0C3899.1 756.9 3901.2 744.7 3902.0 739.0C3902.5 735.9 3903.8 733.0 3904.5 730.0C3906.2 722.7 3908.7 705.8 3912.0 695.0C3915.2 684.6 3919.9 672.9 3924.5 665.0C3928.3 658.4 3935.1 650.7 3939.5 647.5C3943.5 644.6 3951.9 641.4 3957.0 641.5C3964.7 641.6 3995.0 648.5 3995.0 648.5C3995.0 648.5 3995.0 2038.0 3995.0 2038.0C3995.0 2038.0 3986.1 2036.9 3982.0 2038.0C3975.9 2039.6 3958.0 2048.0 3958.0 2048.0C3958.0 2048.0 3955.4 2034.2 3954.5 2033.0C3953.6 2031.8 3945.4 2027.7 3942.0 2027.0C3938.7 2026.3 3929.5 2028.0 3929.5 2028.0C3929.5 2028.0 3924.9 2015.5 3924.5 2010.5C3924.1 2005.8 3927.3 1996.6 3927.0 1995.5C3926.7 1994.4 3919.9 1989.2 3917.0 1985.5C3914.1 1981.8 3910.9 1977.5 3909.5 1973.0C3907.9 1967.8 3908.3 1959.6 3907.0 1953.0C3905.3 1944.7 3901.2 1932.2 3899.5 1923.0C3898.0 1914.8 3898.0 1900.0 3897.0 1898.0C3896.1 1896.1 3886.6 1891.8 3882.0 1888.0C3877.0 1883.8 3871.0 1877.3 3867.0 1873.0C3863.8 1869.5 3860.5 1866.0 3858.0 1862.0C3853.8 1855.3 3847.1 1842.8 3842.0 1833.0C3836.8 1823.2 3830.5 1813.0 3827.0 1803.0C3823.6 1793.4 3822.2 1782.2 3821.0 1773.0C3819.9 1764.7 3820.2 1756.3 3819.5 1748.0C3818.8 1739.5 3818.4 1724.5 3817.0 1722.0C3815.6 1719.5 3802.8 1712.8 3797.0 1708.0C3791.6 1703.5 3785.3 1697.3 3782.0 1693.0C3779.5 1689.8 3779.1 1683.9 3777.0 1682.0C3774.1 1679.4 3763.6 1674.4 3757.0 1670.5C3749.5 1666.1 3740.2 1660.7 3732.0 1655.5C3722.8 1649.7 3711.2 1641.8 3702.0 1635.5C3693.6 1629.8 3684.5 1624.2 3677.0 1618.0C3669.8 1612.0 3663.5 1604.9 3657.0 1598.0C3649.9 1590.5 3640.8 1581.3 3634.5 1573.0C3628.7 1565.2 3623.2 1555.5 3619.5 1548.0C3616.3 1541.6 3614.4 1532.3 3612.0 1528.0C3610.4 1525.1 3604.5 1520.5 3604.5 1520.5C3604.5 1520.5 3598.3 1526.8 3597.0 1530.5C3594.9 1536.4 3591.0 1558.0 3591.0 1558.0C3591.0 1558.0 3590.6 1545.9 3589.5 1540.5C3588.5 1535.3 3584.5 1525.5 3584.5 1525.5C3584.5 1525.5 3562.0 1537.0 3562.0 1537.0C3562.0 1537.0 3558.6 1520.0 3558.5 1513.0C3558.5 1506.8 3561.7 1494.8 3561.7 1494.8C3561.7 1494.8 3570.8 1493.3 3575.3 1492.6C3579.8 1491.9 3584.4 1491.2 3588.9 1490.7C3593.4 1490.1 3597.9 1489.7 3602.5 1489.3C3607.5 1488.9 3614.5 1488.8 3618.8 1488.0C3622.1 1487.3 3625.4 1486.1 3628.3 1484.4C3631.5 1482.6 3635.4 1480.1 3637.8 1477.1C3640.5 1473.9 3642.8 1469.1 3644.6 1464.8C3646.5 1460.5 3647.1 1455.3 3648.7 1451.2C3650.2 1447.5 3651.9 1443.5 3654.2 1440.4C3656.4 1437.2 3659.3 1434.6 3662.3 1432.2C3665.7 1429.5 3674.6 1424.0 3674.6 1424.0C3674.6 1424.0 3672.5 1414.3 3671.8 1410.5C3671.3 1407.3 3670.3 1401.4 3670.5 1400.9C3670.7 1400.5 3676.3 1396.8 3678.6 1394.1C3681.1 1391.2 3683.7 1387.2 3685.4 1383.3C3687.2 1379.2 3688.6 1374.0 3689.5 1369.7C3690.4 1365.6 3690.2 1360.5 3690.9 1357.4C3691.4 1355.2 3693.6 1351.2 3693.6 1351.2C3693.6 1351.2 3700.0 1353.0 3701.7 1352.8C3703.4 1352.6 3708.8 1349.8 3709.1 1349.3C3709.4 1348.7 3710.5 1341.1 3710.7 1337.0C3711.0 1332.3 3711.3 1325.0 3710.7 1320.7C3710.3 1317.4 3708.3 1314.4 3707.2 1311.2C3705.9 1307.6 3704.0 1302.8 3703.1 1299.0C3702.3 1295.4 3701.7 1288.1 3701.7 1288.1C3701.7 1288.1 3680.2 1288.5 3673.2 1288.1C3668.6 1287.8 3663.9 1286.9 3659.6 1285.4C3654.6 1283.5 3648.3 1279.7 3643.3 1277.2C3638.7 1274.9 3633.5 1271.8 3629.7 1270.4C3626.7 1269.3 3622.6 1268.4 3620.2 1268.5C3617.8 1268.6 3613.3 1270.1 3612.0 1271.2C3610.6 1272.4 3608.1 1276.9 3606.6 1279.9C3604.9 1283.2 3603.7 1288.1 3601.9 1290.8C3600.4 1293.1 3597.3 1296.1 3595.7 1296.8C3594.1 1297.5 3589.1 1298.1 3586.2 1297.6C3583.0 1297.1 3576.3 1293.6 3575.3 1293.5C3574.7 1293.4 3571.2 1295.7 3571.2 1295.7C3571.2 1295.7 3572.1 1291.6 3572.0 1291.5C3571.7 1291.2 3561.7 1283.5 3557.0 1279.0C3550.3 1272.8 3539.5 1262.3 3532.0 1254.0C3524.9 1246.1 3517.4 1237.3 3512.0 1229.0C3506.9 1221.2 3502.8 1211.5 3499.5 1204.0C3496.6 1197.5 3493.2 1189.2 3492.0 1184.0C3491.1 1180.4 3492.0 1173.0 3492.0 1173.0C3492.0 1173.0 3505.2 1166.7 3512.0 1164.0C3519.5 1161.0 3529.1 1159.0 3537.0 1155.0C3545.3 1150.8 3554.9 1144.6 3562.0 1139.0C3568.5 1133.9 3575.7 1124.7 3579.5 1121.5C3581.2 1120.1 3586.0 1119.0 3586.0 1119.0C3586.0 1119.0 3593.5 1130.0 3597.0 1134.0C3600.0 1137.4 3607.0 1143.0 3607.0 1143.0C3607.0 1143.0 3612.6 1138.6 3613.5 1136.5C3614.7 1133.6 3617.2 1124.9 3617.0 1119.0C3616.8 1112.0 3613.9 1102.3 3612.0 1094.0C3609.9 1084.8 3606.9 1074.0 3604.5 1064.0C3602.0 1053.6 3600.3 1041.1 3597.0 1031.5C3593.9 1022.7 3584.9 1011.7 3584.5 1006.5C3584.1 1001.1 3591.5 984.4 3593.0 974.0C3594.4 964.1 3593.4 950.7 3593.5 944.0C3593.5 940.7 3593.3 934.4 3593.5 934.0Z" fill="#D9D9D9"/>
<path d="M2509.6 1610.8C2514.1 1609.7 2525.2 1611.3 2532.9 1612.2C2542.1 1613.1 2553.9 1615.2 2564.3 1616.7C2574.8 1618.2 2585.3 1620.0 2595.7 1621.1C2606.2 1622.3 2617.4 1622.4 2627.2 1623.4C2636.2 1624.3 2645.1 1625.8 2654.1 1627.0C2663.8 1628.2 2675.8 1630.3 2685.5 1631.0C2694.4 1631.7 2703.8 1631.4 2712.4 1631.5C2720.6 1631.5 2730.0 1632.2 2737.1 1631.5C2743.2 1630.8 2750.3 1627.4 2755.0 1627.0C2758.7 1626.6 2762.9 1627.9 2766.2 1628.8C2769.4 1629.6 2772.1 1631.4 2775.2 1632.4C2779.0 1633.5 2784.9 1635.0 2788.7 1635.5C2791.6 1635.9 2795.7 1636.1 2797.7 1635.5C2799.6 1635.0 2804.4 1631.0 2804.4 1631.0C2804.4 1631.0 2818.3 1649.4 2822.3 1652.6C2825.4 1655.0 2832.9 1655.1 2838.0 1657.0C2843.6 1659.1 2850.4 1662.4 2856.0 1665.1C2861.3 1667.7 2866.6 1672.1 2871.7 1673.2C2877.0 1674.4 2885.1 1673.3 2891.9 1673.2C2899.0 1673.1 2908.3 1673.6 2914.3 1672.7C2919.0 1672.1 2925.0 1668.7 2927.8 1668.3C2929.6 1668.0 2932.5 1668.6 2934.5 1669.6C2937.0 1670.8 2940.3 1674.0 2943.5 1675.9C2947.2 1678.1 2952.8 1681.0 2956.9 1683.1C2960.6 1684.9 2964.2 1687.1 2968.2 1688.4C2973.0 1690.1 2980.1 1691.7 2986.1 1692.9C2992.0 1694.2 2998.1 1695.6 3004.0 1696.1C3010.0 1696.6 3016.4 1696.2 3022.0 1696.1C3027.2 1695.9 3035.2 1694.8 3037.7 1695.2C3039.5 1695.5 3043.0 1698.1 3044.4 1699.7C3045.9 1701.3 3048.0 1704.9 3048.0 1706.4C3048.1 1708.4 3047.0 1715.8 3045.3 1719.9C3043.6 1723.9 3040.8 1727.8 3037.7 1731.1C3034.6 1734.4 3029.7 1737.4 3026.5 1740.0C3023.8 1742.3 3021.6 1745.3 3018.4 1746.8C3013.2 1749.2 3002.8 1752.0 2995.1 1754.9C2986.7 1758.0 2976.4 1761.7 2968.2 1765.6C2960.4 1769.3 2952.1 1774.4 2945.7 1778.2C2940.3 1781.4 2933.8 1785.9 2930.0 1788.5C2927.7 1790.2 2923.9 1792.5 2923.3 1793.9C2922.5 1795.7 2922.5 1806.6 2921.0 1809.6C2919.6 1812.6 2913.5 1817.0 2909.8 1820.8C2905.7 1825.1 2900.5 1830.4 2896.4 1835.6C2892.3 1840.8 2888.5 1846.8 2885.1 1852.2C2882.0 1857.3 2878.4 1862.9 2876.2 1867.9C2874.1 1872.5 2871.6 1881.6 2871.7 1882.3C2871.8 1883.0 2877.7 1889.1 2880.7 1892.6C2883.7 1896.2 2887.4 1899.7 2889.6 1903.8C2891.9 1907.9 2894.1 1916.2 2894.1 1917.3C2894.1 1918.1 2891.5 1922.4 2889.6 1924.0C2887.2 1926.1 2881.8 1928.0 2878.4 1930.7C2874.7 1933.7 2870.3 1937.8 2867.2 1942.0C2864.1 1946.1 2861.6 1951.3 2859.6 1955.4C2857.8 1959.0 2856.4 1963.1 2855.1 1966.6C2853.8 1969.9 2853.4 1973.7 2851.5 1976.5C2849.1 1979.9 2844.3 1984.5 2840.3 1988.2C2836.2 1991.9 2831.6 1995.7 2826.8 1998.9C2822.0 2002.2 2815.6 2005.1 2811.1 2007.9C2807.2 2010.4 2802.9 2013.1 2799.9 2016.0C2797.2 2018.6 2795.3 2021.9 2793.2 2025.0C2790.6 2028.7 2786.3 2037.1 2784.2 2038.4C2782.1 2039.8 2772.3 2041.3 2766.2 2042.0C2758.0 2042.9 2745.3 2043.5 2734.8 2043.8C2723.6 2044.2 2707.9 2043.9 2698.9 2044.3C2692.9 2044.5 2686.6 2045.3 2681.0 2046.0C2675.7 2046.7 2670.3 2047.1 2665.3 2048.7C2660.1 2050.5 2654.5 2054.5 2649.6 2056.4C2645.3 2058.0 2636.4 2059.8 2636.1 2060.0C2635.9 2060.1 2635.3 2066.8 2633.9 2069.8C2632.4 2073.1 2629.4 2077.2 2627.2 2079.7C2625.3 2081.8 2621.8 2084.3 2620.4 2084.6C2618.9 2084.9 2612.3 2084.4 2609.2 2083.3C2606.2 2082.2 2601.9 2079.2 2600.2 2077.5C2598.7 2075.9 2598.2 2072.2 2596.6 2069.8C2594.4 2066.3 2589.9 2060.9 2586.8 2056.4C2582.9 2050.8 2577.8 2042.2 2573.3 2036.2C2569.2 2030.7 2564.0 2024.7 2559.9 2020.5C2556.4 2016.9 2552.4 2013.0 2548.6 2010.6C2545.2 2008.4 2540.2 2006.6 2537.4 2006.1C2535.1 2005.7 2530.2 2006.4 2529.3 2007.0C2528.4 2007.8 2524.5 2015.1 2521.7 2018.2C2519.1 2021.2 2515.9 2024.4 2512.7 2025.9C2509.1 2027.5 2502.4 2028.9 2497.0 2029.4C2490.7 2030.0 2481.0 2030.0 2474.6 2029.4C2469.3 2028.9 2461.5 2027.1 2458.9 2025.9C2456.8 2024.8 2452.8 2020.3 2452.2 2018.2C2451.4 2015.8 2451.0 2007.8 2451.3 2002.5C2451.6 1995.4 2453.9 1983.5 2454.4 1975.6C2454.9 1968.9 2454.9 1960.3 2454.4 1955.4C2454.1 1952.3 2452.1 1949.5 2451.3 1946.4C2450.4 1943.1 2449.7 1936.2 2449.0 1935.2C2448.4 1934.3 2443.6 1932.3 2441.0 1930.7C2438.1 1929.1 2432.2 1925.8 2432.0 1925.4C2431.7 1924.9 2431.6 1917.0 2432.0 1912.8C2432.5 1907.7 2433.5 1900.7 2435.1 1894.8C2437.0 1888.1 2440.6 1879.9 2443.2 1872.4C2445.8 1865.0 2449.3 1857.4 2450.8 1850.0C2452.3 1842.6 2451.3 1833.9 2452.2 1827.5C2452.9 1822.2 2454.4 1816.7 2455.8 1811.8C2457.0 1807.3 2459.9 1803.1 2460.2 1798.4C2461.0 1789.0 2460.7 1766.6 2460.2 1755.7C2459.9 1748.2 2457.4 1738.6 2457.6 1733.3C2457.7 1729.6 2461.1 1722.1 2461.1 1722.1C2461.1 1722.1 2451.3 1724.3 2451.3 1724.3C2451.3 1724.3 2451.8 1678.7 2450.8 1672.7C2450.4 1669.9 2442.4 1664.1 2441.0 1661.5C2439.8 1659.5 2439.2 1653.5 2439.6 1652.6C2440.0 1651.5 2444.4 1645.7 2447.7 1643.6C2452.6 1640.5 2462.7 1636.8 2470.1 1633.3C2477.6 1629.7 2486.0 1625.8 2492.6 1622.0C2498.5 1618.7 2505.2 1611.9 2509.6 1610.8Z" fill="#D9D9D9"/>
<path d="M2527.6 849.5C2527.6 849.5 2518.6 848.6 2514.0 848.1C2509.1 847.5 2503.2 846.4 2497.7 845.9C2492.3 845.5 2485.5 845.1 2481.4 845.4C2478.6 845.6 2475.3 846.8 2473.3 847.6C2471.8 848.1 2469.2 850.0 2469.2 850.0C2469.2 850.0 2475.7 851.2 2476.0 851.4C2476.2 851.5 2477.3 854.9 2477.3 854.9C2477.3 854.9 2473.0 858.7 2470.5 860.3C2467.8 862.1 2463.4 864.2 2461.0 865.8C2459.3 866.9 2456.4 869.9 2456.4 869.9C2456.4 869.9 2459.1 871.4 2459.7 872.0C2460.2 872.7 2461.0 875.3 2461.0 875.3C2461.1 875.3 2467.8 875.4 2470.5 875.8C2472.9 876.2 2477.1 877.8 2477.3 878.0C2477.6 878.2 2478.1 881.9 2478.7 883.4C2479.2 884.9 2480.9 887.5 2480.9 887.5C2480.9 887.5 2477.6 890.9 2476.0 891.6C2474.2 892.3 2470.6 892.9 2467.8 893.0C2464.6 893.1 2460.1 891.8 2456.9 892.2C2454.1 892.4 2451.6 894.4 2448.8 894.9C2444.7 895.6 2437.9 896.0 2432.5 896.2C2426.1 896.5 2416.6 896.4 2410.7 896.8C2406.2 897.1 2400.3 897.7 2397.1 898.4C2395.2 898.8 2391.7 900.9 2391.7 900.9C2391.7 900.9 2397.8 903.6 2398.5 904.4C2399.1 905.1 2400.4 911.2 2400.4 911.2C2400.4 911.2 2393.1 913.1 2391.7 913.9C2390.6 914.5 2388.4 918.0 2388.4 918.0C2388.4 918.0 2393.0 922.1 2393.0 922.1C2393.0 922.1 2380.8 922.9 2380.8 922.9C2380.8 922.9 2385.1 926.3 2387.6 927.5C2391.0 929.2 2398.2 931.3 2401.2 932.9C2403.0 934.0 2405.8 937.6 2405.8 937.6C2405.8 937.6 2401.9 941.8 2399.8 943.8C2397.5 946.1 2393.1 949.3 2391.7 951.2C2390.5 952.7 2389.4 956.9 2389.5 957.4C2389.6 958.0 2392.5 962.9 2394.4 964.2C2396.9 965.9 2403.5 968.8 2408.0 970.2C2412.4 971.6 2417.7 972.2 2421.6 972.9C2424.7 973.5 2431.1 974.6 2431.1 974.6C2431.1 974.6 2432.3 978.8 2431.9 980.5C2431.3 983.4 2428.7 989.6 2427.0 994.1C2425.3 998.7 2422.9 1004.1 2421.6 1007.7C2420.7 1010.4 2420.2 1014.7 2419.4 1015.9C2418.6 1017.0 2415.2 1018.3 2413.4 1020.0C2411.1 1022.2 2408.0 1026.3 2405.3 1029.5C2402.3 1032.9 2398.5 1037.6 2395.7 1040.4C2393.7 1042.5 2390.6 1045.6 2389.0 1046.3C2387.3 1047.1 2380.8 1046.9 2380.8 1046.9C2380.8 1046.9 2385.3 1048.0 2387.6 1048.0C2390.8 1047.9 2399.8 1046.3 2399.8 1046.3C2399.8 1046.3 2397.2 1050.0 2395.7 1050.7C2393.9 1051.6 2389.2 1052.2 2386.2 1053.4C2383.3 1054.6 2380.4 1056.0 2378.1 1058.0C2375.6 1060.2 2371.3 1066.7 2371.3 1066.7C2371.3 1066.7 2381.6 1063.2 2386.2 1061.6C2390.6 1060.1 2399.3 1057.2 2399.3 1057.2C2399.3 1057.2 2395.7 1065.8 2394.4 1070.3C2392.9 1075.2 2390.3 1086.6 2390.3 1086.6C2390.3 1086.6 2396.7 1083.3 2399.8 1081.7C2403.0 1080.1 2409.3 1077.1 2409.3 1077.1C2409.3 1077.1 2410.2 1098.0 2410.2 1098.0C2410.2 1098.0 2421.9 1094.9 2427.0 1093.4C2431.6 1092.0 2437.0 1089.7 2440.6 1088.8C2443.3 1088.1 2446.2 1088.7 2448.8 1088.0C2452.4 1086.9 2458.0 1084.7 2462.4 1082.5C2467.4 1080.0 2473.7 1075.9 2478.7 1073.0C2483.2 1070.3 2487.8 1067.6 2492.3 1064.8C2496.8 1062.1 2501.4 1059.0 2505.9 1056.7C2510.3 1054.4 2515.0 1052.3 2519.5 1050.7C2523.9 1049.2 2528.6 1047.9 2533.1 1047.2C2537.6 1046.4 2542.4 1046.8 2546.7 1046.3C2550.8 1045.9 2555.4 1045.7 2558.9 1044.4C2562.2 1043.3 2566.0 1040.9 2567.9 1039.0C2569.7 1037.2 2571.1 1033.7 2572.5 1030.8C2574.2 1027.4 2576.0 1022.6 2578.0 1018.6C2580.0 1014.5 2582.7 1010.2 2584.8 1006.4C2586.7 1002.8 2588.9 999.3 2590.2 995.5C2591.5 991.6 2592.4 987.4 2592.4 983.3C2592.4 978.9 2591.4 974.1 2590.2 969.7C2588.9 965.1 2586.5 960.6 2584.8 956.1C2582.9 951.3 2580.7 945.6 2579.3 941.1C2578.1 937.1 2577.3 931.8 2576.6 928.9C2576.2 927.0 2576.0 925.1 2575.2 923.4C2574.1 921.1 2571.8 917.2 2569.8 914.7C2567.8 912.3 2565.0 910.8 2563.0 908.5C2560.5 905.6 2557.3 900.3 2554.8 897.6C2552.9 895.5 2548.9 892.5 2548.0 892.2C2547.3 891.9 2543.8 892.3 2542.6 893.0C2541.1 893.8 2538.1 897.0 2535.8 899.0C2533.3 901.1 2528.0 905.7 2527.6 905.7C2527.3 905.8 2518.1 902.4 2514.0 900.3C2510.2 898.4 2504.5 895.0 2503.2 893.5C2502.0 892.2 2500.3 886.7 2500.5 885.4C2500.7 883.8 2503.6 877.8 2505.9 874.5C2508.6 870.6 2513.2 866.4 2516.8 862.2C2520.4 858.1 2527.6 849.5 2527.6 849.5Z" fill="#D9D9D9"/>
<path d="M2594.3 690.4C2594.3 690.4 2596.9 687.1 2598.4 686.3C2599.9 685.5 2605.2 684.4 2605.2 684.4C2605.2 684.4 2604.3 689.6 2603.8 690.4C2603.3 691.1 2600.5 692.9 2599.7 693.1C2599.0 693.3 2596.0 692.7 2595.6 692.5C2595.4 692.4 2594.3 690.4 2594.3 690.4Z" fill="#D4D4D4"/>
<path d="M2593.5 740.7C2593.5 740.7 2596.8 736.3 2598.4 735.2C2599.9 734.2 2605.2 733.1 2605.2 733.1C2605.2 733.1 2604.4 738.2 2603.8 739.3C2603.2 740.4 2600.5 742.5 2599.7 742.9C2599.0 743.2 2596.1 743.0 2595.6 742.9C2595.2 742.7 2593.5 740.7 2593.5 740.7Z" fill="#D4D4D4"/>
<path d="M2665.5 890.0C2665.5 890.0 2669.5 892.0 2669.6 892.2C2669.7 892.4 2670.3 896.7 2669.9 899.0C2669.3 901.8 2666.3 909.3 2666.3 909.3C2666.3 909.3 2665.3 906.1 2665.3 904.4C2665.1 901.2 2665.5 890.0 2665.5 890.0Z" fill="#D4D4D4"/>
<path d="M3238.0 954.0C3237.8 952.4 3240.7 945.4 3242.0 944.0C3243.3 942.6 3249.5 939.3 3252.0 939.0C3254.8 938.7 3262.2 939.8 3267.0 941.5C3272.8 943.6 3281.2 949.2 3287.0 951.5C3291.8 953.3 3299.3 955.0 3302.0 955.0C3304.1 955.0 3310.3 951.8 3310.5 951.5C3310.7 951.2 3311.3 940.8 3312.0 939.0C3312.5 937.6 3315.8 934.3 3317.0 934.0C3319.3 933.5 3330.3 932.8 3337.0 933.0C3343.7 933.2 3350.8 933.3 3357.0 935.0C3363.2 936.7 3374.5 943.0 3374.5 943.0C3374.5 943.0 3366.2 932.4 3362.0 929.0C3358.4 926.0 3352.5 923.1 3349.5 922.5C3346.5 921.9 3340.8 923.8 3337.0 924.0C3333.7 924.2 3327.0 924.0 3327.0 924.0C3327.0 924.0 3327.0 913.6 3326.0 909.0C3325.0 904.6 3321.4 899.3 3321.0 896.5C3320.7 894.0 3322.0 889.4 3323.0 886.5C3323.9 883.8 3326.9 880.5 3327.0 879.0C3327.1 877.4 3325.8 872.2 3324.5 869.0C3323.1 865.7 3320.6 861.7 3318.5 859.0C3316.7 856.7 3312.0 853.0 3312.0 853.0C3312.0 853.0 3316.9 854.6 3319.5 855.0C3326.2 856.0 3341.2 858.2 3352.0 859.0C3362.8 859.8 3384.5 860.0 3384.5 860.0C3384.5 860.0 3388.0 867.2 3388.0 869.0C3388.0 870.8 3385.7 876.1 3384.5 879.0C3383.5 881.6 3381.0 886.5 3381.0 886.5C3381.0 886.5 3387.2 893.2 3389.5 894.0C3392.0 894.9 3399.5 895.4 3404.5 895.0C3409.9 894.6 3417.1 891.7 3422.0 891.5C3426.2 891.4 3434.5 894.0 3434.5 894.0C3434.5 894.0 3429.2 900.7 3427.0 904.0C3424.8 907.2 3421.1 913.1 3421.0 914.0C3420.9 914.9 3424.5 922.5 3424.5 922.5C3424.5 922.5 3436.3 921.7 3442.0 920.0C3449.1 917.9 3459.5 913.5 3467.0 910.0C3473.9 906.8 3480.8 902.1 3487.0 899.0C3492.7 896.2 3500.4 892.3 3504.5 891.5C3507.9 890.8 3513.0 891.9 3517.0 893.0C3521.6 894.2 3527.8 897.8 3532.0 899.0C3535.2 899.9 3542.0 900.0 3542.0 900.0C3542.0 900.0 3543.2 886.2 3544.5 881.5C3545.4 877.9 3549.5 871.5 3549.5 871.5C3549.5 871.5 3554.3 877.6 3554.5 879.0C3554.7 880.6 3551.6 890.0 3552.0 891.5C3552.5 893.0 3558.2 900.2 3562.0 904.0C3566.2 908.2 3572.4 912.3 3577.0 916.5C3581.4 920.5 3587.3 925.3 3589.5 929.0C3591.7 932.6 3593.1 938.8 3593.5 944.0C3594.1 951.5 3594.4 964.1 3593.0 974.0C3591.5 984.4 3584.1 1001.1 3584.5 1006.5C3584.9 1011.7 3593.9 1022.7 3597.0 1031.5C3600.3 1041.1 3602.0 1053.6 3604.5 1064.0C3606.9 1074.0 3609.9 1084.8 3612.0 1094.0C3613.9 1102.3 3616.8 1112.0 3617.0 1119.0C3617.2 1124.9 3614.7 1133.6 3613.5 1136.5C3612.6 1138.6 3607.0 1143.0 3607.0 1143.0C3607.0 1143.0 3600.0 1137.4 3597.0 1134.0C3593.5 1130.0 3586.0 1119.0 3586.0 1119.0C3586.0 1119.0 3581.2 1120.1 3579.5 1121.5C3575.7 1124.7 3568.5 1133.9 3562.0 1139.0C3554.9 1144.6 3545.3 1150.8 3537.0 1155.0C3529.1 1159.0 3519.5 1161.0 3512.0 1164.0C3505.2 1166.7 3492.0 1173.0 3492.0 1173.0C3492.0 1173.0 3491.1 1180.4 3492.0 1184.0C3493.2 1189.2 3496.6 1197.5 3499.5 1204.0C3502.8 1211.5 3506.9 1221.2 3512.0 1229.0C3517.4 1237.3 3524.9 1246.1 3532.0 1254.0C3539.5 1262.3 3550.5 1272.1 3557.0 1279.0C3562.0 1284.3 3571.2 1295.7 3571.2 1295.7C3571.2 1295.7 3562.6 1296.0 3559.0 1296.8C3555.7 1297.5 3552.4 1298.7 3549.5 1300.3C3546.3 1302.0 3542.9 1304.6 3539.9 1307.1C3536.8 1309.8 3533.4 1313.9 3530.4 1316.6C3527.8 1319.0 3523.2 1322.0 3522.3 1323.4C3521.4 1324.6 3520.6 1328.6 3520.9 1330.2C3521.2 1332.2 3523.7 1336.5 3525.0 1339.7C3526.3 1343.1 3527.7 1347.0 3529.1 1350.6C3530.4 1354.3 3533.1 1362.0 3533.1 1362.0C3533.1 1362.0 3526.8 1363.1 3523.6 1362.9C3519.8 1362.5 3514.5 1361.2 3510.0 1360.1C3505.5 1359.1 3500.5 1357.1 3496.4 1356.6C3492.8 1356.2 3489.1 1356.6 3485.5 1357.4C3481.0 1358.5 3474.7 1361.0 3469.2 1362.9C3463.8 1364.7 3457.9 1366.9 3452.9 1368.3C3448.5 1369.5 3441.6 1371.2 3439.3 1371.0C3437.4 1370.9 3433.9 1368.2 3431.2 1366.9C3428.5 1365.7 3424.9 1363.8 3423.0 1363.7C3421.1 1363.5 3416.7 1364.5 3414.8 1365.6C3412.9 1366.7 3410.0 1369.8 3408.0 1372.4C3406.0 1375.1 3402.6 1381.9 3402.6 1381.9C3402.6 1381.9 3396.1 1380.6 3393.1 1379.2C3389.2 1377.4 3384.0 1373.5 3379.5 1371.0C3375.0 1368.6 3370.0 1365.8 3365.9 1364.2C3362.4 1362.9 3358.6 1362.6 3355.0 1361.5C3350.9 1360.2 3346.2 1357.4 3341.4 1356.6C3336.0 1355.7 3328.7 1355.8 3322.4 1356.1C3316.0 1356.3 3309.7 1357.6 3303.3 1358.2C3297.0 1358.9 3290.4 1359.7 3284.3 1360.1C3278.4 1360.6 3266.6 1361.0 3266.6 1361.0C3266.6 1361.0 3270.0 1339.6 3272.0 1329.0C3274.1 1317.8 3277.0 1304.4 3279.5 1294.0C3281.7 1284.8 3286.9 1267.2 3287.0 1266.5C3287.0 1266.2 3283.6 1261.9 3282.0 1261.5C3278.0 1260.3 3261.2 1258.2 3252.0 1256.5C3243.6 1255.0 3232.5 1253.7 3227.0 1251.5C3222.6 1249.8 3217.5 1245.4 3214.5 1241.5C3211.3 1237.3 3208.2 1230.1 3206.0 1224.0C3203.8 1217.8 3203.0 1207.1 3201.0 1204.0C3199.0 1200.9 3186.0 1193.0 3186.0 1193.0C3186.0 1193.0 3192.3 1185.7 3194.5 1181.5C3196.8 1177.1 3199.5 1170.3 3199.5 1166.5C3199.5 1162.6 3195.9 1153.6 3194.5 1149.0C3193.5 1145.6 3190.9 1141.6 3191.0 1139.0C3191.2 1135.3 3195.7 1125.9 3196.0 1119.0C3196.3 1111.9 3194.5 1103.9 3193.0 1096.5C3191.5 1089.0 3187.2 1076.6 3187.0 1074.0C3186.9 1072.5 3190.3 1066.9 3191.0 1066.5C3192.0 1066.0 3201.8 1065.4 3207.0 1064.0C3212.2 1062.6 3218.3 1060.6 3222.0 1058.0C3225.7 1055.4 3230.5 1050.0 3232.0 1046.5C3233.6 1042.9 3235.0 1033.2 3234.5 1029.0C3234.0 1024.8 3228.0 1014.0 3228.0 1014.0C3228.0 1014.0 3239.2 1006.5 3242.0 1003.0C3244.7 999.6 3247.5 993.2 3248.0 989.0C3248.5 984.7 3247.6 977.1 3246.0 971.5C3244.3 965.7 3238.3 956.0 3238.0 954.0Z" fill="#F5E9CD" stroke="#FFFFFF" stroke-width="2.3"/>
<path d="M3018.8 1127.2C3018.5 1126.9 3013.5 1124.5 3010.6 1123.9C3007.5 1123.3 3003.4 1122.8 2999.8 1123.1C2996.1 1123.4 2991.8 1124.3 2988.9 1125.8C2985.8 1127.5 2982.1 1130.8 2979.4 1134.0C2976.4 1137.4 2973.3 1142.2 2971.2 1146.2C2969.3 1150.1 2967.5 1155.2 2967.1 1158.5C2966.8 1161.3 2967.8 1165.6 2968.5 1168.0C2969.0 1169.8 2971.3 1172.4 2971.2 1172.9C2971.2 1173.5 2969.1 1179.2 2967.1 1181.6C2964.7 1184.5 2959.9 1188.0 2956.3 1191.1C2951.9 1194.7 2944.7 1201.6 2941.3 1203.3C2938.5 1204.7 2933.1 1203.8 2929.1 1204.7C2925.0 1205.6 2920.4 1206.7 2916.8 1208.8C2913.2 1210.8 2909.8 1214.2 2907.3 1216.9C2905.1 1219.3 2903.2 1222.4 2901.9 1225.1C2900.6 1227.7 2900.5 1230.8 2899.1 1233.3C2897.8 1235.7 2895.9 1238.2 2893.7 1240.1C2891.4 1242.0 2888.3 1244.0 2885.5 1244.7C2882.3 1245.5 2876.5 1245.6 2872.0 1245.5C2867.4 1245.4 2862.2 1245.0 2858.4 1244.1C2855.0 1243.3 2851.5 1241.6 2848.8 1240.1C2846.5 1238.6 2844.5 1235.5 2842.6 1234.6C2840.7 1233.7 2836.7 1233.9 2833.9 1233.3C2830.6 1232.5 2826.6 1231.2 2823.0 1230.0C2819.4 1228.7 2815.9 1226.7 2812.1 1225.6C2808.3 1224.6 2799.9 1223.7 2799.9 1223.7C2799.9 1223.7 2801.4 1230.2 2802.6 1233.3C2804.2 1237.3 2807.4 1243.5 2809.4 1248.2C2811.3 1252.7 2813.5 1257.5 2814.8 1261.8C2816.1 1265.8 2817.3 1270.6 2817.6 1274.0C2817.7 1276.8 2816.8 1281.2 2816.2 1282.2C2815.6 1283.2 2812.6 1285.6 2810.8 1286.3C2808.7 1287.1 2804.4 1287.4 2801.2 1287.6C2796.9 1288.0 2790.4 1287.9 2784.9 1288.2C2779.0 1288.6 2771.3 1289.9 2765.9 1289.8C2761.3 1289.7 2756.4 1288.9 2752.3 1287.6C2748.4 1286.4 2744.6 1284.2 2741.4 1282.2C2738.4 1280.3 2735.7 1276.7 2733.3 1275.4C2731.1 1274.2 2727.9 1273.6 2725.1 1273.5C2721.5 1273.4 2716.0 1273.8 2711.5 1274.6C2706.1 1275.5 2698.7 1277.2 2692.5 1278.9C2686.1 1280.7 2678.9 1282.8 2673.4 1284.9C2668.7 1286.8 2662.9 1289.8 2659.8 1291.7C2658.0 1292.9 2655.2 1296.3 2655.2 1296.3C2655.2 1296.3 2657.2 1301.4 2658.5 1302.6C2660.1 1304.1 2665.7 1306.5 2668.0 1308.0C2669.6 1309.1 2672.1 1312.1 2672.1 1312.1C2672.1 1312.1 2668.7 1316.0 2666.6 1317.6C2664.6 1319.1 2660.6 1320.9 2659.8 1321.6C2659.2 1322.2 2658.4 1325.6 2658.5 1325.7C2658.5 1325.8 2662.7 1330.9 2665.3 1332.5C2668.1 1334.2 2673.0 1335.6 2676.1 1336.6C2678.8 1337.5 2681.7 1337.8 2684.3 1338.8C2687.5 1339.9 2691.4 1342.1 2695.2 1343.4C2700.2 1345.1 2707.8 1347.1 2714.2 1348.8C2721.0 1350.6 2728.8 1352.3 2736.0 1354.3C2743.2 1356.2 2750.9 1358.3 2757.7 1360.5C2764.2 1362.7 2771.3 1365.5 2776.8 1367.9C2781.4 1369.9 2788.6 1373.2 2790.4 1374.7C2791.6 1375.7 2793.6 1380.7 2793.6 1381.5C2793.6 1382.2 2791.9 1386.2 2790.4 1388.3C2788.7 1390.5 2785.1 1392.9 2783.6 1395.1C2782.2 1397.0 2780.8 1400.4 2780.8 1401.9C2780.8 1403.3 2782.1 1407.9 2783.6 1410.0C2785.4 1412.7 2789.6 1416.7 2793.1 1419.5C2796.9 1422.7 2801.9 1426.2 2806.7 1429.1C2811.7 1432.0 2818.2 1434.7 2823.0 1437.2C2827.1 1439.4 2832.7 1442.0 2835.2 1444.0C2837.1 1445.6 2839.4 1449.2 2839.9 1450.8C2840.3 1452.4 2839.9 1456.3 2839.3 1459.0C2838.7 1462.1 2836.6 1466.7 2836.1 1469.9C2835.6 1472.5 2835.6 1476.2 2836.1 1478.0C2836.4 1479.6 2838.2 1482.2 2839.3 1483.4C2840.3 1484.6 2842.5 1485.0 2843.4 1486.2C2845.3 1488.8 2849.0 1495.8 2852.0 1500.5C2855.1 1505.4 2862.0 1515.5 2862.0 1515.5C2862.0 1515.5 2855.5 1516.1 2854.5 1515.5C2852.9 1514.5 2842.1 1503.0 2842.0 1503.0C2841.9 1503.0 2828.0 1508.0 2828.0 1508.0C2828.0 1508.0 2826.8 1528.0 2826.0 1538.0C2825.2 1548.8 2824.1 1563.0 2823.0 1573.0C2822.1 1581.4 2820.9 1590.5 2819.5 1598.0C2818.2 1604.8 2817.0 1612.6 2814.5 1618.0C2812.1 1623.1 2803.5 1632.0 2803.5 1632.0C2803.5 1632.0 2815.6 1645.8 2822.0 1650.5C2828.0 1654.9 2835.2 1657.4 2842.0 1660.5C2850.3 1664.2 2861.5 1671.1 2872.0 1673.0C2883.5 1675.1 2902.0 1673.8 2912.0 1673.0C2918.8 1672.4 2929.0 1667.4 2932.0 1668.0C2935.0 1668.6 2946.2 1677.0 2952.0 1680.5C2956.9 1683.5 2961.6 1687.1 2967.0 1689.0C2973.2 1691.2 2982.0 1692.8 2989.5 1694.0C2996.9 1695.2 3004.5 1696.1 3012.0 1696.5C3020.3 1696.9 3039.5 1696.5 3039.5 1696.5C3039.5 1696.5 3042.1 1690.7 3042.0 1688.0C3041.8 1683.7 3038.5 1674.7 3038.5 1668.0C3038.5 1661.3 3039.8 1653.6 3042.0 1648.0C3044.1 1642.6 3047.9 1637.1 3052.0 1633.0C3056.1 1628.9 3061.5 1625.4 3067.0 1623.0C3072.8 1620.5 3080.3 1618.4 3087.0 1618.0C3093.7 1617.6 3100.5 1618.9 3107.0 1620.5C3113.7 1622.2 3120.5 1625.1 3127.0 1628.0C3133.7 1630.9 3140.3 1635.1 3147.0 1638.0C3153.5 1640.9 3160.8 1643.8 3167.0 1645.5C3172.7 1647.0 3178.7 1648.2 3184.5 1648.0C3190.3 1647.8 3196.4 1646.2 3202.0 1644.0C3208.2 1641.5 3215.5 1637.0 3222.0 1633.0C3228.7 1628.8 3236.2 1623.0 3242.0 1619.0C3247.0 1615.6 3254.9 1609.7 3257.0 1609.0C3258.5 1608.5 3266.0 1610.5 3266.0 1610.5C3266.0 1610.5 3266.6 1594.2 3266.0 1593.0C3265.4 1591.8 3256.4 1586.7 3252.0 1583.0C3247.6 1579.2 3242.8 1575.1 3239.5 1570.5C3236.2 1566.0 3234.0 1560.7 3232.0 1555.5C3229.9 1550.1 3227.8 1543.4 3227.0 1538.0C3226.2 1533.1 3226.2 1527.6 3227.0 1523.0C3227.8 1518.6 3230.2 1514.2 3232.0 1510.5C3233.7 1507.0 3237.6 1502.7 3238.0 1500.5C3238.4 1498.3 3237.6 1492.6 3236.4 1488.9C3235.1 1484.9 3231.7 1480.5 3230.4 1476.7C3229.2 1473.2 3228.8 1469.4 3228.2 1465.8C3227.6 1461.9 3227.5 1457.4 3226.8 1453.5C3226.2 1449.9 3225.0 1444.2 3224.1 1442.7C3223.5 1441.4 3219.0 1438.6 3218.7 1438.6C3218.3 1438.6 3210.7 1442.7 3206.4 1444.0C3202.1 1445.4 3192.9 1446.7 3192.9 1446.7C3192.9 1446.7 3195.6 1441.3 3196.9 1438.6C3199.0 1434.3 3202.1 1426.7 3205.1 1420.9C3208.5 1414.3 3213.5 1405.9 3217.3 1399.1C3220.9 1392.8 3225.0 1384.6 3228.2 1380.1C3230.4 1377.0 3234.1 1372.9 3236.4 1372.0C3239.0 1370.8 3248.1 1370.5 3252.7 1369.8C3256.3 1369.2 3262.6 1368.4 3263.6 1367.9C3264.4 1367.4 3267.0 1363.4 3267.6 1361.1C3268.5 1357.9 3268.2 1352.0 3269.0 1347.5C3270.1 1341.1 3272.6 1331.2 3274.4 1323.0C3276.2 1314.8 3278.1 1305.8 3279.9 1298.5C3281.5 1292.1 3284.0 1285.0 3285.3 1279.5C3286.4 1274.8 3287.5 1265.3 3287.5 1265.3C3287.5 1265.3 3275.2 1263.4 3269.0 1262.6C3262.3 1261.8 3254.0 1261.5 3247.2 1260.5C3240.8 1259.5 3233.2 1258.0 3228.2 1256.4C3224.3 1255.1 3220.2 1253.1 3217.3 1250.9C3214.6 1248.9 3212.3 1245.5 3210.5 1242.8C3208.8 1240.2 3206.6 1234.7 3206.4 1234.6C3206.1 1234.5 3182.9 1235.1 3176.5 1234.6C3173.7 1234.4 3171.0 1233.1 3168.4 1231.9C3164.3 1230.1 3157.4 1226.6 3152.1 1223.7C3146.6 1220.8 3140.5 1217.6 3135.7 1214.2C3131.3 1211.0 3126.3 1206.7 3123.5 1203.3C3121.3 1200.7 3118.9 1193.8 3118.9 1193.8C3118.9 1193.8 3118.5 1198.8 3118.1 1199.3C3117.6 1199.8 3112.7 1203.1 3111.3 1203.3C3109.8 1203.6 3105.2 1202.9 3103.1 1202.0C3101.0 1201.0 3098.4 1198.5 3096.3 1196.5C3093.6 1194.0 3090.0 1190.2 3086.8 1187.0C3083.2 1183.4 3079.2 1178.2 3074.6 1174.8C3069.6 1171.2 3062.5 1168.4 3056.9 1165.3C3051.4 1162.2 3045.5 1159.1 3040.6 1155.7C3035.8 1152.5 3030.4 1148.3 3027.0 1144.9C3024.2 1142.1 3021.4 1138.0 3020.2 1135.4C3019.1 1133.1 3019.1 1127.5 3018.8 1127.2Z" fill="#F5E9CD" stroke="#FFFFFF" stroke-width="2.3"/>
<path d="M3266.6 1361.0C3266.6 1361.0 3278.4 1360.6 3284.3 1360.1C3290.4 1359.7 3297.0 1358.9 3303.3 1358.2C3309.7 1357.6 3316.0 1356.3 3322.4 1356.1C3328.7 1355.8 3336.0 1355.7 3341.4 1356.6C3346.2 1357.4 3350.9 1360.2 3355.0 1361.5C3358.6 1362.6 3362.4 1362.9 3365.9 1364.2C3370.0 1365.8 3375.0 1368.6 3379.5 1371.0C3384.0 1373.5 3389.2 1377.4 3393.1 1379.2C3396.1 1380.6 3402.6 1381.9 3402.6 1381.9C3402.6 1381.9 3406.0 1375.1 3408.0 1372.4C3410.0 1369.8 3412.9 1366.7 3414.8 1365.6C3416.7 1364.5 3421.1 1363.5 3423.0 1363.7C3424.9 1363.8 3428.5 1365.7 3431.2 1366.9C3433.9 1368.2 3437.4 1370.9 3439.3 1371.0C3441.6 1371.2 3448.5 1369.5 3452.9 1368.3C3457.9 1366.9 3463.8 1364.7 3469.2 1362.9C3474.7 1361.0 3481.0 1358.5 3485.5 1357.4C3489.1 1356.6 3492.8 1356.2 3496.4 1356.6C3500.5 1357.1 3505.5 1359.1 3510.0 1360.1C3514.5 1361.2 3519.8 1362.5 3523.6 1362.9C3526.8 1363.1 3533.1 1362.0 3533.1 1362.0C3533.1 1362.0 3530.4 1354.3 3529.1 1350.6C3527.7 1347.0 3526.3 1343.1 3525.0 1339.7C3523.7 1336.5 3521.2 1332.2 3520.9 1330.2C3520.6 1328.6 3521.4 1324.6 3522.3 1323.4C3523.2 1322.0 3527.8 1319.0 3530.4 1316.6C3533.4 1313.9 3536.8 1309.8 3539.9 1307.1C3542.9 1304.6 3546.3 1302.0 3549.5 1300.3C3552.4 1298.7 3555.7 1297.5 3559.0 1296.8C3562.6 1296.0 3568.6 1296.2 3571.2 1295.7C3572.7 1295.4 3574.7 1293.4 3575.3 1293.5C3576.3 1293.6 3583.0 1297.1 3586.2 1297.6C3589.1 1298.1 3594.1 1297.5 3595.7 1296.8C3597.3 1296.1 3600.4 1293.1 3601.9 1290.8C3603.7 1288.1 3604.9 1283.2 3606.6 1279.9C3608.1 1276.9 3610.6 1272.4 3612.0 1271.2C3613.3 1270.1 3617.8 1268.6 3620.2 1268.5C3622.6 1268.4 3626.7 1269.3 3629.7 1270.4C3633.5 1271.8 3638.7 1274.9 3643.3 1277.2C3648.3 1279.7 3654.6 1283.5 3659.6 1285.4C3663.9 1286.9 3668.6 1287.8 3673.2 1288.1C3680.2 1288.5 3701.7 1288.1 3701.7 1288.1C3701.7 1288.1 3702.3 1295.4 3703.1 1299.0C3704.0 1302.8 3705.9 1307.6 3707.2 1311.2C3708.3 1314.4 3710.3 1317.4 3710.7 1320.7C3711.3 1325.0 3711.0 1332.3 3710.7 1337.0C3710.5 1341.1 3709.4 1348.7 3709.1 1349.3C3708.8 1349.8 3703.4 1352.6 3701.7 1352.8C3700.0 1353.0 3693.6 1351.2 3693.6 1351.2C3693.6 1351.2 3691.4 1355.2 3690.9 1357.4C3690.2 1360.5 3690.4 1365.6 3689.5 1369.7C3688.6 1374.0 3687.2 1379.2 3685.4 1383.3C3683.7 1387.2 3681.1 1391.2 3678.6 1394.1C3676.3 1396.8 3670.7 1400.5 3670.5 1400.9C3670.3 1401.4 3671.3 1407.3 3671.8 1410.5C3672.5 1414.3 3674.6 1424.0 3674.6 1424.0C3674.6 1424.0 3665.7 1429.5 3662.3 1432.2C3659.3 1434.6 3656.4 1437.2 3654.2 1440.4C3651.9 1443.5 3650.2 1447.5 3648.7 1451.2C3647.1 1455.3 3646.5 1460.5 3644.6 1464.8C3642.8 1469.1 3640.5 1473.9 3637.8 1477.1C3635.4 1480.1 3631.5 1482.6 3628.3 1484.4C3625.4 1486.1 3622.1 1487.3 3618.8 1488.0C3614.5 1488.8 3607.5 1488.9 3602.5 1489.3C3597.9 1489.7 3593.4 1490.1 3588.9 1490.7C3584.4 1491.2 3579.8 1491.9 3575.3 1492.6C3570.8 1493.3 3561.7 1494.8 3561.7 1494.8C3561.7 1494.8 3561.2 1486.2 3560.3 1483.9C3559.5 1481.8 3556.8 1478.4 3554.9 1477.1C3552.9 1475.7 3548.2 1473.8 3545.4 1473.5C3542.5 1473.3 3537.8 1474.0 3534.5 1475.2C3531.2 1476.4 3527.7 1479.0 3525.0 1481.2C3522.5 1483.1 3520.8 1486.4 3518.2 1488.0C3515.4 1489.7 3510.1 1490.3 3507.3 1492.0C3504.7 1493.6 3501.4 1497.0 3500.5 1498.8C3499.6 1500.6 3499.0 1505.2 3499.1 1508.4C3499.3 1511.8 3501.5 1515.9 3501.3 1519.2C3501.1 1522.9 3499.3 1528.5 3497.8 1532.8C3496.3 1537.0 3493.4 1541.0 3492.3 1545.1C3491.3 1549.0 3491.5 1553.2 3491.5 1557.3C3491.5 1561.4 3491.4 1566.2 3492.3 1569.5C3493.3 1572.7 3495.4 1576.3 3497.8 1579.1C3500.7 1582.5 3505.7 1586.8 3510.0 1589.9C3514.3 1593.1 3519.1 1595.4 3523.6 1598.1C3528.2 1600.8 3533.1 1603.3 3537.2 1606.3C3541.1 1609.1 3545.2 1612.6 3548.1 1615.8C3550.7 1618.6 3553.0 1621.9 3554.9 1625.3C3557.2 1629.4 3559.9 1635.3 3562.0 1640.5C3564.4 1646.4 3566.6 1654.0 3569.5 1660.5C3572.4 1667.2 3575.8 1674.0 3579.5 1680.5C3583.2 1687.2 3587.4 1695.1 3592.0 1700.5C3596.2 1705.5 3602.0 1709.8 3607.0 1713.0C3611.6 1715.9 3616.7 1718.4 3622.0 1719.5C3627.8 1720.8 3636.2 1719.8 3642.0 1720.5C3647.1 1721.2 3653.0 1722.8 3657.0 1724.0C3660.1 1725.0 3666.0 1728.0 3666.0 1728.0C3666.0 1728.0 3661.2 1736.8 3659.5 1740.5C3658.1 1743.7 3655.9 1750.0 3656.0 1750.5C3656.1 1751.0 3659.5 1756.3 3662.0 1758.0C3666.1 1760.7 3675.2 1765.0 3682.0 1768.0C3689.5 1771.3 3698.7 1774.7 3707.0 1778.0C3715.3 1781.3 3725.3 1784.7 3732.0 1788.0C3737.4 1790.7 3742.6 1794.0 3747.0 1798.0C3751.6 1802.2 3755.8 1807.6 3759.5 1813.0C3763.5 1818.8 3768.5 1827.6 3771.0 1833.0C3772.8 1836.9 3774.5 1845.5 3774.5 1845.5C3774.5 1845.5 3768.0 1850.5 3768.0 1850.5C3768.0 1850.5 3763.6 1847.6 3762.0 1845.5C3759.8 1842.6 3757.0 1837.2 3754.5 1833.0C3752.0 1828.8 3748.0 1821.3 3747.0 1820.5C3746.1 1819.8 3740.3 1819.6 3737.0 1819.0C3733.7 1818.4 3729.7 1818.3 3727.0 1817.0C3724.1 1815.5 3719.1 1809.8 3717.0 1809.0C3715.1 1808.2 3709.4 1808.2 3707.0 1809.0C3704.5 1809.8 3699.9 1812.8 3697.0 1815.5C3693.7 1818.7 3689.5 1823.4 3687.0 1828.0C3684.5 1832.6 3682.3 1839.2 3682.0 1843.0C3681.7 1846.5 3683.0 1852.8 3684.5 1855.5C3686.0 1858.3 3691.2 1862.2 3694.5 1865.5C3697.8 1868.8 3702.1 1871.9 3704.5 1875.5C3706.9 1879.1 3709.5 1886.5 3709.5 1888.0C3709.5 1889.5 3706.6 1894.9 3704.5 1898.0C3701.6 1902.2 3696.2 1908.1 3692.0 1913.0C3687.0 1918.8 3680.3 1926.3 3674.5 1933.0C3668.7 1939.7 3661.2 1947.6 3657.0 1953.0C3654.0 1956.9 3649.5 1965.5 3649.5 1965.5C3649.5 1965.5 3647.1 1958.9 3647.0 1955.5C3646.8 1951.3 3647.3 1945.4 3648.5 1940.5C3649.8 1935.5 3652.1 1930.3 3654.5 1925.5C3657.2 1920.1 3662.2 1913.4 3664.5 1908.0C3666.5 1903.3 3668.2 1896.2 3668.0 1893.0C3667.8 1889.8 3664.5 1884.7 3663.0 1880.5C3661.2 1875.5 3659.1 1868.8 3657.0 1863.0C3654.8 1856.8 3652.4 1848.4 3649.5 1843.0C3647.0 1838.3 3643.0 1832.9 3639.5 1830.5C3635.9 1828.0 3627.6 1826.8 3622.0 1824.0C3615.8 1820.9 3608.3 1816.5 3602.0 1812.0C3595.3 1807.2 3588.6 1801.1 3582.0 1795.5C3575.3 1789.8 3567.4 1782.6 3562.0 1778.0C3557.9 1774.6 3554.1 1770.7 3549.5 1768.0C3544.5 1765.1 3537.4 1763.4 3532.0 1760.5C3526.7 1757.7 3521.6 1754.3 3517.0 1750.5C3512.0 1746.3 3507.3 1740.2 3502.0 1735.5C3495.3 1729.7 3485.3 1722.2 3477.0 1715.5C3468.7 1708.8 3459.1 1700.9 3452.0 1695.5C3446.3 1691.1 3439.9 1687.7 3434.5 1683.0C3428.7 1678.0 3422.2 1670.9 3417.0 1665.5C3412.4 1660.6 3405.4 1654.6 3403.5 1650.5C3401.6 1646.4 3402.4 1635.1 3401.0 1630.5C3400.0 1627.0 3396.0 1624.2 3394.5 1620.5C3392.6 1615.9 3391.6 1607.6 3389.5 1603.0C3387.8 1599.2 3384.6 1595.0 3382.0 1593.0C3379.4 1591.0 3373.5 1590.0 3369.5 1588.0C3365.3 1585.9 3360.8 1583.4 3357.0 1580.5C3353.3 1577.6 3350.1 1572.6 3347.0 1570.5C3344.3 1568.7 3339.3 1566.9 3337.0 1567.0C3334.3 1567.2 3326.7 1569.5 3322.0 1572.0C3316.2 1575.1 3308.6 1580.8 3302.0 1585.5C3295.3 1590.2 3288.0 1596.3 3282.0 1600.5C3276.8 1604.1 3266.0 1610.5 3266.0 1610.5C3266.0 1610.5 3266.6 1594.2 3266.0 1593.0C3265.4 1591.8 3256.4 1586.7 3252.0 1583.0C3247.6 1579.2 3242.8 1575.1 3239.5 1570.5C3236.2 1566.0 3234.0 1560.7 3232.0 1555.5C3229.9 1550.1 3227.8 1543.4 3227.0 1538.0C3226.2 1533.1 3226.2 1527.6 3227.0 1523.0C3227.8 1518.6 3230.2 1514.2 3232.0 1510.5C3233.7 1507.0 3237.6 1502.7 3238.0 1500.5C3238.4 1498.3 3237.6 1492.6 3236.4 1488.9C3235.1 1484.9 3231.7 1480.5 3230.4 1476.7C3229.2 1473.2 3228.8 1469.4 3228.2 1465.8C3227.6 1461.9 3227.5 1457.4 3226.8 1453.5C3226.2 1449.9 3225.0 1444.2 3224.1 1442.7C3223.5 1441.4 3219.0 1438.6 3218.7 1438.6C3218.3 1438.6 3210.7 1442.7 3206.4 1444.0C3202.1 1445.4 3192.9 1446.7 3192.9 1446.7C3192.9 1446.7 3195.6 1441.3 3196.9 1438.6C3199.0 1434.3 3202.1 1426.7 3205.1 1420.9C3208.5 1414.3 3213.5 1405.9 3217.3 1399.1C3220.9 1392.8 3225.0 1384.6 3228.2 1380.1C3230.4 1377.0 3234.1 1372.9 3236.4 1372.0C3239.0 1370.8 3248.1 1370.5 3252.7 1369.8C3256.3 1369.2 3262.6 1368.4 3263.6 1367.9C3264.4 1367.4 3267.6 1361.1 3267.6 1361.1C3267.6 1361.1 3266.6 1361.0 3266.6 1361.0Z" fill="#F5E9CD" stroke="#FFFFFF" stroke-width="2.3"/>
<path d="M2637.8 581.6C2638.3 581.0 2643.1 577.6 2645.9 576.7C2648.9 575.8 2653.3 575.2 2656.8 575.6C2660.6 576.0 2664.9 578.6 2669.1 579.4C2673.6 580.3 2679.0 581.0 2684.0 581.0C2689.5 581.0 2695.8 580.1 2701.7 579.4C2707.8 578.7 2715.3 577.3 2720.7 576.7C2725.2 576.2 2731.7 575.2 2734.3 575.6C2736.6 576.0 2742.5 580.2 2742.5 580.2C2742.5 580.2 2741.2 586.2 2739.8 588.4C2738.1 590.8 2734.5 594.0 2731.6 596.5C2728.0 599.7 2722.7 604.0 2718.0 607.4C2713.0 611.0 2706.9 614.8 2701.7 618.3C2696.7 621.6 2690.8 625.4 2686.7 628.4C2683.4 630.7 2678.2 635.0 2677.2 636.0C2676.8 636.4 2676.7 638.7 2676.7 638.7C2676.7 638.7 2680.6 634.8 2681.3 634.6C2682.0 634.5 2686.9 635.2 2689.5 636.0C2692.0 636.7 2696.8 639.2 2696.8 639.2C2696.8 639.2 2689.0 643.7 2685.4 645.5C2682.0 647.2 2675.0 650.1 2675.0 650.1C2675.0 650.1 2687.4 649.6 2693.5 649.0C2699.8 648.5 2707.1 647.7 2712.6 646.9C2717.1 646.2 2722.3 645.4 2726.2 644.1C2729.6 643.0 2732.6 639.9 2735.7 639.2C2739.3 638.5 2745.7 638.9 2750.6 639.2C2755.9 639.6 2762.0 640.1 2767.0 641.4C2771.7 642.6 2776.7 644.6 2780.6 646.9C2784.2 649.0 2787.4 651.8 2790.1 655.0C2792.7 658.2 2795.9 663.4 2796.3 665.9C2796.7 668.4 2795.4 675.1 2794.2 679.5C2792.7 684.7 2790.0 691.4 2787.4 697.2C2784.6 703.1 2780.8 709.6 2777.8 714.8C2775.2 719.4 2771.9 725.4 2769.7 728.4C2768.4 730.3 2766.5 732.6 2764.8 733.3C2761.8 734.6 2753.6 736.5 2747.9 738.0C2741.3 739.7 2724.8 743.7 2724.8 743.7C2724.8 743.7 2729.4 747.4 2731.6 748.0C2734.1 748.8 2739.1 749.4 2742.5 748.8C2746.1 748.2 2754.7 744.2 2754.7 744.2C2754.7 744.2 2756.1 748.0 2756.1 748.0C2756.1 748.0 2750.9 751.7 2747.9 752.9C2743.8 754.5 2737.0 756.3 2731.6 757.8C2726.2 759.3 2719.6 760.8 2715.3 761.9C2712.1 762.7 2705.8 764.3 2705.8 764.3C2705.8 764.3 2709.4 770.2 2711.2 771.4C2713.1 772.7 2717.4 774.3 2720.7 774.7C2724.6 775.1 2729.8 774.5 2734.3 774.1C2739.8 773.7 2748.6 772.0 2753.4 772.0C2756.6 772.0 2760.1 772.7 2762.9 774.1C2766.3 775.9 2771.3 780.0 2775.1 783.4C2779.4 787.1 2784.6 792.0 2788.7 796.4C2792.6 800.7 2796.4 805.5 2799.6 810.0C2802.6 814.4 2805.2 819.0 2807.8 823.6C2810.5 828.6 2813.2 834.5 2815.9 839.9C2819.5 847.1 2825.0 859.9 2829.5 866.3C2833.0 871.3 2838.6 874.9 2843.1 878.6C2847.4 882.0 2852.2 884.9 2856.7 888.1C2861.2 891.2 2866.5 894.4 2870.3 897.6C2873.8 900.4 2877.2 903.9 2879.8 907.1C2882.2 910.0 2885.1 914.2 2886.1 916.6C2886.9 918.7 2887.0 923.0 2886.6 924.8C2886.2 926.6 2883.7 929.6 2882.5 931.6C2881.6 933.2 2880.2 936.3 2879.8 936.5C2879.5 936.7 2875.0 937.4 2873.0 937.0C2870.7 936.5 2863.5 932.9 2863.5 932.9C2863.5 932.9 2861.6 938.4 2861.6 938.4C2861.6 938.4 2865.3 942.4 2867.6 943.8C2870.6 945.8 2875.7 948.5 2879.8 950.1C2883.8 951.6 2890.4 952.3 2892.1 953.3C2893.6 954.3 2896.0 958.6 2897.5 961.5C2899.1 964.7 2900.8 968.6 2901.6 972.4C2902.4 976.2 2902.8 981.6 2902.4 984.6C2902.0 987.2 2900.4 990.5 2898.9 992.8C2897.4 994.9 2893.4 998.2 2893.4 998.2C2893.4 998.2 2895.1 1001.9 2896.1 1002.8C2897.4 1003.9 2901.5 1006.3 2902.9 1006.4C2904.6 1006.4 2910.2 1004.7 2913.8 1003.7C2917.9 1002.4 2922.9 1000.4 2927.4 999.0C2931.9 997.7 2936.7 995.9 2941.0 995.5C2945.1 995.1 2950.2 995.7 2953.2 996.9C2956.3 998.0 2960.2 1001.0 2962.8 1003.7C2965.3 1006.3 2967.7 1009.9 2968.7 1013.2C2969.9 1016.7 2970.7 1022.2 2970.4 1026.8C2970.1 1032.0 2968.3 1039.2 2966.8 1044.4C2965.5 1049.1 2963.2 1056.0 2961.4 1058.0C2959.6 1060.1 2953.0 1062.2 2949.2 1064.8C2944.9 1067.8 2940.0 1072.0 2935.6 1075.7C2931.0 1079.6 2925.8 1084.1 2922.0 1088.0C2918.6 1091.4 2913.3 1097.4 2912.5 1098.8C2912.0 1099.6 2912.5 1103.5 2912.5 1103.5C2912.5 1103.5 2916.9 1105.4 2919.3 1105.6C2923.6 1106.0 2932.4 1105.3 2938.3 1105.6C2943.8 1106.0 2950.8 1107.0 2954.6 1107.8C2957.0 1108.3 2961.4 1110.5 2961.4 1110.5C2961.4 1110.5 2932.1 1138.6 2922.0 1141.5C2910.5 1144.8 2860.8 1140.7 2852.6 1141.5C2850.1 1141.8 2846.5 1146.9 2843.1 1149.1C2839.7 1151.4 2835.4 1153.9 2832.2 1155.1C2829.7 1156.2 2826.4 1156.8 2824.1 1156.8C2821.9 1156.8 2819.4 1156.1 2817.3 1155.1C2815.0 1154.1 2812.8 1151.4 2810.5 1150.5C2808.1 1149.6 2805.0 1149.0 2802.3 1149.1C2799.3 1149.4 2794.8 1150.7 2791.4 1151.9C2788.2 1153.0 2783.0 1155.9 2781.9 1155.9C2780.9 1156.0 2777.6 1153.2 2775.1 1152.7C2772.2 1152.0 2767.8 1152.5 2764.2 1151.9C2760.2 1151.2 2754.3 1149.3 2750.6 1148.6C2748.0 1148.1 2744.1 1147.4 2742.5 1147.8C2740.8 1148.1 2738.0 1151.0 2735.7 1151.9C2733.5 1152.7 2730.8 1152.4 2728.9 1153.2C2727.0 1154.1 2724.8 1155.6 2723.4 1157.3C2721.7 1159.5 2719.8 1164.3 2718.0 1166.8C2716.5 1168.9 2714.1 1171.4 2712.6 1172.3C2711.1 1173.1 2707.9 1172.8 2705.8 1173.6C2703.5 1174.5 2701.3 1176.9 2699.0 1177.7C2696.7 1178.5 2693.5 1178.9 2690.8 1178.5C2687.2 1178.1 2681.3 1175.8 2677.2 1175.0C2673.6 1174.3 2668.2 1173.2 2666.3 1173.6C2664.5 1174.0 2660.6 1176.8 2658.2 1179.1C2655.0 1182.0 2650.7 1187.0 2647.3 1191.3C2643.8 1195.7 2637.0 1205.7 2637.0 1205.7C2637.0 1205.7 2633.2 1200.8 2633.2 1200.8C2633.2 1200.8 2636.4 1195.4 2636.4 1195.4C2636.4 1195.4 2617.4 1195.4 2617.4 1195.4C2617.4 1195.4 2619.8 1190.6 2621.5 1188.6C2623.3 1186.3 2625.9 1183.9 2628.3 1181.8C2631.0 1179.4 2634.9 1177.0 2637.8 1174.2C2641.0 1171.0 2644.1 1166.5 2647.3 1162.7C2650.7 1158.8 2655.5 1154.6 2658.2 1150.5C2660.7 1146.8 2662.4 1142.5 2663.6 1138.3C2664.9 1134.0 2665.3 1129.2 2665.8 1124.7C2666.2 1120.2 2666.3 1111.1 2666.3 1111.1C2666.3 1111.1 2669.8 1111.8 2670.4 1112.4C2671.2 1113.2 2673.6 1118.7 2674.5 1119.2C2675.5 1119.9 2681.8 1121.4 2685.4 1121.4C2689.0 1121.4 2692.9 1120.0 2696.3 1119.2C2699.5 1118.5 2703.7 1116.7 2705.8 1116.5C2707.3 1116.4 2709.6 1117.1 2711.2 1117.9C2713.0 1118.8 2714.8 1121.1 2716.7 1122.0C2718.5 1122.8 2721.4 1123.5 2723.4 1123.3C2725.8 1123.1 2730.0 1122.1 2733.0 1120.6C2736.1 1119.0 2739.6 1116.4 2742.5 1113.8C2745.4 1111.1 2748.1 1107.6 2750.6 1104.3C2753.4 1100.6 2756.3 1096.3 2758.8 1092.0C2761.3 1087.8 2765.6 1079.0 2765.6 1079.0C2765.6 1079.0 2757.3 1082.3 2753.4 1084.4C2749.1 1086.7 2744.3 1090.3 2739.8 1092.6C2735.4 1094.8 2730.0 1096.8 2726.2 1098.0C2723.1 1099.0 2717.9 1099.9 2716.7 1099.7C2715.4 1099.4 2712.3 1096.0 2709.9 1094.8C2706.5 1093.0 2700.8 1091.0 2696.3 1089.3C2691.8 1087.6 2685.9 1086.1 2682.7 1084.4C2680.3 1083.2 2676.7 1079.0 2676.7 1079.0C2676.7 1079.0 2669.9 1082.4 2666.3 1083.9C2662.8 1085.4 2658.6 1087.0 2655.5 1088.0C2652.8 1088.8 2648.1 1090.1 2647.3 1089.9C2646.5 1089.7 2642.5 1086.5 2640.5 1084.4C2638.5 1082.3 2635.3 1078.1 2635.1 1077.1C2634.8 1076.2 2635.7 1071.0 2636.4 1070.3C2637.3 1069.3 2643.8 1066.0 2647.3 1063.5C2651.4 1060.5 2656.6 1056.5 2660.9 1052.6C2665.2 1048.8 2669.7 1044.1 2673.1 1040.4C2676.1 1037.1 2680.9 1031.0 2681.3 1030.0C2681.6 1029.4 2680.6 1026.0 2679.9 1024.0C2679.2 1021.8 2676.7 1016.4 2676.7 1016.4C2676.7 1016.4 2682.5 1013.4 2685.4 1011.8C2688.9 1009.9 2697.6 1005.0 2697.6 1005.0C2697.6 1005.0 2695.3 1000.3 2694.9 1000.1C2694.3 999.9 2687.6 999.5 2684.0 999.0C2680.4 998.6 2675.8 998.4 2673.1 997.4C2670.8 996.6 2666.8 993.4 2666.3 992.8C2666.0 992.2 2665.5 988.1 2665.8 987.3C2666.2 986.5 2669.5 982.5 2671.8 980.5C2674.1 978.6 2677.5 976.3 2679.9 975.6C2682.5 975.0 2687.2 975.3 2690.8 975.6C2694.9 976.0 2700.4 977.9 2704.4 977.8C2708.1 977.7 2711.6 975.6 2715.3 975.1C2719.4 974.6 2724.6 975.1 2728.9 974.6C2733.0 974.0 2738.8 973.0 2741.1 971.8C2743.1 970.9 2747.0 966.5 2747.4 965.6C2747.7 964.6 2747.4 958.8 2746.6 956.1C2745.7 953.3 2742.9 950.9 2741.9 947.9C2740.9 944.7 2740.2 940.7 2740.3 937.0C2740.4 932.9 2741.6 927.7 2742.5 923.4C2743.4 919.3 2745.7 911.2 2745.7 911.2C2745.7 911.2 2742.1 907.9 2741.1 907.7C2740.0 907.4 2733.0 908.5 2733.0 908.5C2732.9 908.4 2729.9 904.1 2728.9 901.7C2727.5 898.3 2725.9 892.2 2724.8 888.1C2723.8 884.5 2722.2 880.0 2722.1 877.2C2722.0 874.7 2722.9 871.6 2724.0 869.0C2725.4 865.9 2728.3 861.6 2730.2 858.2C2732.1 855.0 2735.7 848.6 2735.7 848.6C2735.7 848.6 2723.2 848.6 2718.0 849.5C2713.3 850.2 2708.0 851.9 2704.4 853.5C2701.4 855.0 2698.5 859.2 2696.3 859.5C2690.7 860.2 2663.6 859.8 2655.5 859.5C2652.7 859.4 2648.2 858.2 2647.3 857.6C2646.5 857.1 2644.1 853.2 2644.0 852.2C2643.9 851.0 2644.9 846.6 2645.9 844.0C2647.4 840.4 2650.8 834.7 2652.7 830.4C2654.6 826.4 2657.3 820.4 2657.6 818.2C2657.9 816.3 2656.4 812.7 2655.5 810.0C2654.2 806.6 2651.4 801.6 2650.0 797.8C2648.8 794.3 2647.2 787.3 2647.3 786.9C2647.4 786.5 2651.3 782.5 2652.7 781.5C2653.8 780.7 2656.8 780.1 2656.8 780.1C2656.8 780.1 2657.6 773.3 2657.6 773.3C2657.6 773.3 2652.1 779.4 2651.4 779.6C2650.6 779.7 2643.0 778.1 2639.1 777.4C2635.5 776.7 2628.3 775.2 2628.3 775.2C2628.3 775.2 2632.4 778.2 2633.7 780.1C2635.4 782.6 2637.4 787.2 2638.6 791.0C2639.9 795.1 2641.0 800.7 2641.3 804.6C2641.6 807.8 2640.9 812.8 2640.5 814.1C2640.2 815.0 2637.0 817.6 2637.0 817.6C2637.0 817.6 2633.7 810.9 2632.3 808.7C2631.3 807.0 2628.8 804.0 2628.8 804.0C2628.8 804.0 2627.7 806.2 2626.9 806.8C2625.4 807.9 2621.2 809.5 2618.7 811.4C2616.3 813.3 2613.6 817.0 2612.0 818.2C2610.9 819.0 2607.9 819.5 2607.9 819.5C2607.9 819.5 2608.1 814.9 2608.7 812.7C2609.4 810.2 2610.5 807.1 2612.0 804.6C2613.5 801.9 2617.5 798.6 2617.9 796.4C2618.5 793.3 2617.5 775.8 2617.4 775.2C2617.3 774.9 2612.1 772.0 2611.4 772.0C2610.7 772.0 2606.1 773.7 2603.8 775.2C2601.2 776.9 2598.3 780.6 2595.6 782.3C2593.3 783.8 2588.0 785.5 2588.0 785.5C2588.0 785.5 2588.6 778.4 2589.7 776.0C2590.7 773.7 2593.5 770.2 2595.6 768.7C2597.7 767.2 2601.8 765.7 2605.2 765.2C2608.8 764.6 2616.5 765.7 2617.4 765.2C2618.3 764.6 2624.2 755.3 2626.9 751.6C2629.1 748.5 2632.9 743.3 2633.7 742.6C2634.2 742.2 2637.8 742.0 2637.8 742.0C2637.8 742.0 2635.8 737.3 2635.1 735.2C2634.4 733.4 2633.0 730.6 2633.2 729.8C2633.3 729.0 2637.0 723.0 2637.0 723.0C2637.0 723.0 2633.2 726.0 2631.0 727.1C2628.6 728.2 2625.0 729.7 2622.8 729.8C2620.7 729.9 2616.2 728.8 2614.7 727.9C2613.1 727.0 2610.1 723.5 2609.2 721.6C2608.3 719.8 2607.7 715.4 2607.9 713.5C2608.0 711.6 2609.6 708.9 2610.6 706.7C2612.0 703.7 2614.5 699.4 2616.0 695.8C2617.5 692.3 2619.1 688.0 2619.6 684.9C2619.9 682.3 2619.5 679.4 2618.7 676.8C2617.9 674.0 2616.3 671.2 2614.7 668.6C2613.0 666.0 2610.0 663.6 2608.7 661.0C2607.4 658.4 2606.8 654.9 2606.5 652.3C2606.3 650.0 2606.4 647.2 2607.1 645.5C2607.8 643.7 2610.0 640.2 2612.0 638.7C2614.2 636.9 2619.4 635.3 2622.8 633.3C2626.2 631.2 2629.9 628.9 2632.3 626.5C2634.7 624.1 2637.3 619.7 2637.8 618.3C2638.2 617.0 2637.6 613.6 2637.0 611.5C2636.3 609.4 2633.7 605.5 2633.7 605.5C2633.7 605.5 2628.3 606.9 2628.3 606.9C2628.3 606.9 2632.9 604.4 2635.1 603.3C2637.1 602.4 2641.3 600.6 2641.3 600.6C2641.3 600.6 2641.2 596.0 2640.5 593.8C2639.8 591.6 2637.3 588.4 2637.0 587.0C2636.7 585.8 2637.4 582.1 2637.8 581.6Z" fill="#F5E9CD" stroke="#FFFFFF" stroke-width="2.3"/>
<path d="M2537.2 627.8C2537.3 627.0 2538.3 621.2 2539.9 618.3C2541.9 614.7 2545.9 609.9 2549.4 606.1C2553.0 602.1 2557.8 597.8 2561.6 594.6C2565.1 591.8 2569.6 588.7 2572.5 587.0C2574.6 585.8 2579.3 584.3 2579.3 584.3C2579.3 584.3 2581.9 588.3 2582.0 589.7C2582.2 591.5 2581.8 596.2 2580.7 599.3C2579.5 602.4 2577.0 605.6 2575.2 608.8C2573.4 612.2 2571.0 616.1 2569.8 619.7C2568.7 623.0 2568.7 628.4 2567.9 630.0C2567.1 631.5 2563.9 634.2 2561.6 635.4C2559.4 636.7 2555.4 637.9 2553.5 637.9C2551.6 637.8 2547.8 636.5 2545.3 635.2C2542.8 633.8 2539.9 631.2 2538.5 630.0C2537.9 629.4 2537.1 628.2 2537.2 627.8Z" fill="#F5E9CD" stroke="#FFFFFF" stroke-width="2.3"/>
<path d="M2558.1 672.7C2558.1 672.1 2560.6 666.7 2561.6 665.9C2562.7 665.0 2567.8 663.1 2571.2 662.6C2575.2 662.0 2586.1 662.1 2586.1 662.1C2586.1 662.1 2588.0 657.2 2588.0 657.2C2588.0 657.2 2588.0 663.0 2587.5 665.9C2586.9 669.2 2585.9 674.4 2584.8 676.8C2583.7 678.8 2580.1 682.5 2579.3 682.8C2578.5 683.0 2571.5 682.4 2568.4 681.7C2565.7 681.0 2561.9 679.1 2560.8 678.1C2559.9 677.3 2558.1 673.2 2558.1 672.7Z" fill="#F5E9CD" stroke="#FFFFFF" stroke-width="2.3"/>
<path d="M2527.6 849.5C2528.9 847.8 2529.6 844.5 2530.4 844.0C2531.4 843.3 2537.5 841.2 2541.2 840.5C2545.5 839.7 2552.1 840.3 2556.2 839.4C2559.6 838.6 2562.5 836.2 2565.7 835.0C2568.8 833.9 2572.7 832.8 2575.2 832.6C2577.3 832.5 2580.7 833.1 2582.0 834.0C2583.6 834.9 2586.9 838.6 2588.8 841.3C2590.9 844.1 2592.7 847.6 2594.3 850.8C2595.8 853.9 2597.3 857.6 2598.4 860.3C2599.2 862.6 2600.5 867.1 2600.5 867.1C2600.5 867.1 2592.9 870.4 2592.9 870.4C2592.9 870.4 2600.6 871.8 2603.8 873.1C2606.8 874.4 2610.8 877.1 2612.0 878.6C2613.1 880.0 2614.8 885.1 2614.7 886.7C2614.5 888.3 2612.6 893.4 2610.6 896.2C2608.3 899.4 2604.5 903.1 2601.1 905.7C2597.8 908.3 2593.8 910.3 2590.2 912.0C2586.7 913.6 2582.4 915.4 2579.3 915.8C2576.4 916.2 2571.6 915.6 2569.8 914.7C2567.9 913.9 2565.0 910.8 2563.0 908.5C2560.5 905.6 2557.3 900.3 2554.8 897.6C2552.9 895.5 2548.9 892.5 2548.0 892.2C2547.3 891.9 2543.8 892.3 2542.6 893.0C2541.1 893.8 2538.1 897.0 2535.8 899.0C2533.3 901.1 2528.0 905.7 2527.6 905.7C2527.3 905.8 2518.1 902.4 2514.0 900.3C2510.2 898.4 2504.5 895.0 2503.2 893.5C2502.0 892.2 2500.3 886.7 2500.5 885.4C2500.7 883.8 2503.6 877.8 2505.9 874.5C2508.6 870.6 2513.2 866.4 2516.8 862.2C2520.4 858.1 2525.4 852.5 2527.6 849.5Z" fill="#F5E9CD" stroke="#FFFFFF" stroke-width="2.3"/>
<path d="M3354.5 1661.5C3354.5 1661.5 3356.2 1676.1 3357.0 1683.0C3357.8 1689.7 3359.5 1696.8 3359.5 1703.0C3359.5 1708.9 3358.4 1715.5 3357.0 1720.5C3355.7 1724.9 3352.2 1728.5 3351.0 1733.0C3349.5 1738.4 3349.1 1749.6 3348.0 1753.0C3347.4 1755.0 3343.0 1759.0 3343.0 1759.0C3343.0 1759.0 3336.3 1757.1 3334.5 1755.5C3332.1 1753.3 3327.4 1746.8 3324.5 1742.0C3321.4 1737.0 3317.9 1730.8 3316.0 1725.5C3314.3 1720.7 3312.9 1715.3 3313.0 1710.5C3313.2 1705.4 3314.9 1697.9 3317.0 1693.0C3319.0 1688.4 3322.5 1684.2 3326.0 1680.5C3329.8 1676.5 3335.6 1671.9 3339.5 1669.0C3342.6 1666.7 3347.0 1664.2 3349.5 1663.0C3351.1 1662.2 3354.5 1661.5 3354.5 1661.5Z" fill="#F5E9CD" stroke="#FFFFFF" stroke-width="2.3"/>
<path d="M3287.0 1776.5C3287.0 1776.5 3295.3 1782.8 3299.5 1785.5C3303.6 1788.2 3311.7 1793.0 3312.0 1793.0C3312.3 1793.0 3324.3 1785.8 3329.5 1782.0C3334.3 1778.5 3343.0 1770.5 3343.0 1770.5C3343.0 1770.5 3346.7 1772.4 3347.0 1773.0C3347.5 1774.1 3349.2 1785.1 3349.5 1785.5C3349.8 1785.9 3358.4 1787.9 3359.5 1789.0C3360.6 1790.1 3363.7 1796.4 3364.5 1800.5C3365.6 1806.2 3366.0 1815.5 3366.0 1823.0C3366.0 1830.9 3365.0 1840.1 3364.5 1848.0C3364.0 1855.5 3364.2 1864.5 3363.0 1870.5C3362.0 1875.3 3359.5 1881.0 3357.0 1884.0C3354.5 1887.0 3349.0 1890.5 3344.5 1893.0C3339.9 1895.5 3334.5 1896.9 3329.5 1899.0C3324.5 1901.1 3316.3 1905.2 3314.5 1905.5C3313.4 1905.7 3308.0 1903.0 3308.0 1903.0C3308.0 1902.9 3307.3 1893.0 3307.0 1888.0C3306.7 1882.2 3306.8 1874.2 3306.0 1868.0C3305.2 1862.1 3303.5 1855.5 3302.0 1850.5C3300.7 1846.2 3298.1 1842.4 3297.0 1838.0C3295.8 1833.0 3295.4 1826.3 3294.5 1820.5C3293.5 1813.8 3292.2 1805.3 3291.0 1798.0C3289.8 1790.8 3287.0 1776.5 3287.0 1776.5Z" fill="#F5E9CD" stroke="#FFFFFF" stroke-width="2.3"/>
<path d="M3493.0 1965.5C3493.0 1965.5 3498.7 1961.5 3502.0 1960.5C3506.8 1959.1 3515.3 1957.7 3522.0 1957.0C3529.5 1956.2 3539.5 1955.3 3547.0 1955.5C3553.7 1955.6 3560.8 1957.2 3567.0 1958.0C3572.8 1958.8 3578.9 1960.9 3584.5 1960.5C3590.1 1960.1 3596.1 1956.9 3602.0 1955.5C3608.2 1954.0 3616.2 1952.3 3622.0 1951.5C3627.0 1950.8 3636.6 1950.4 3637.0 1950.5C3637.4 1950.6 3641.8 1956.8 3642.0 1958.0C3642.2 1959.2 3641.0 1965.7 3639.5 1968.0C3637.8 1970.7 3632.8 1974.8 3629.5 1978.0C3626.2 1981.1 3620.7 1985.1 3619.5 1987.0C3618.5 1988.5 3617.6 1993.8 3618.0 1995.5C3618.5 1997.5 3621.9 2003.4 3624.5 2007.0C3627.2 2010.8 3632.9 2015.6 3634.5 2018.0C3635.5 2019.5 3636.0 2024.0 3636.0 2024.0C3636.0 2024.0 3630.2 2028.6 3627.0 2030.5C3623.8 2032.4 3620.0 2034.8 3617.0 2035.5C3614.1 2036.2 3609.9 2036.4 3607.0 2035.5C3603.3 2034.4 3596.9 2030.6 3592.0 2028.0C3586.2 2024.9 3577.8 2020.8 3572.0 2017.0C3566.7 2013.6 3562.5 2008.5 3557.0 2005.5C3551.2 2002.3 3542.8 1999.5 3537.0 1998.0C3532.1 1996.7 3525.2 1997.9 3522.0 1996.5C3518.8 1995.1 3513.7 1989.0 3509.5 1985.5C3505.4 1982.1 3499.3 1978.3 3497.0 1975.5C3495.1 1973.2 3493.0 1965.5 3493.0 1965.5Z" fill="#F5E9CD" stroke="#FFFFFF" stroke-width="2.3"/>
<path d="M3011.0 1871.5C3011.0 1871.5 3025.6 1862.3 3032.0 1859.0C3037.6 1856.1 3049.5 1851.5 3049.5 1851.5C3049.5 1851.5 3046.2 1861.6 3046.0 1864.0C3045.9 1865.7 3048.0 1870.5 3048.0 1870.5C3048.0 1870.5 3053.5 1870.5 3053.5 1870.5C3053.5 1870.5 3052.1 1876.5 3051.0 1878.0C3049.9 1879.5 3044.9 1883.0 3044.5 1883.0C3044.0 1883.0 3036.2 1879.5 3032.0 1878.0C3026.4 1876.1 3011.0 1871.5 3011.0 1871.5Z" fill="#F5E9CD" stroke="#FFFFFF" stroke-width="2.3"/>
</g>
<g fill="none" stroke="#F6F6F6" stroke-width="1.6" stroke-linejoin="round" stroke-linecap="round">
<path d="M3594.5 29.0C3594.5 29.0 3593.0 39.9 3591.0 45.0C3588.9 50.2 3585.4 55.3 3582.0 60.0C3578.4 65.0 3572.8 69.6 3569.5 75.0C3566.2 80.4 3562.0 92.0 3562.0 92.5C3562.0 93.0 3569.9 100.6 3572.0 105.0C3574.1 109.6 3576.1 117.6 3576.0 122.5C3575.9 127.4 3572.1 138.2 3571.0 140.0C3570.1 141.4 3565.2 144.3 3562.0 145.0C3556.5 146.2 3545.2 145.9 3537.0 147.5C3528.7 149.2 3517.7 151.8 3512.0 155.0C3506.7 158.0 3500.9 164.2 3497.0 170.0C3493.1 175.8 3490.6 183.3 3488.5 190.0C3486.5 196.5 3484.3 203.8 3484.5 210.0C3484.7 216.2 3488.0 224.2 3489.5 230.0C3490.8 235.0 3492.7 240.0 3493.5 245.0C3494.3 249.9 3493.9 255.0 3494.5 260.0C3495.2 266.7 3498.0 277.5 3498.0 285.0C3498.0 291.8 3495.9 298.4 3494.5 305.0C3493.1 311.7 3489.9 320.7 3489.5 325.0C3489.3 328.0 3490.8 333.9 3492.0 335.0C3494.0 336.9 3509.3 344.1 3514.5 348.5C3518.7 352.1 3523.3 359.7 3524.5 362.5C3525.4 364.6 3525.4 370.7 3524.5 372.5C3523.3 375.0 3515.3 382.9 3512.0 387.5C3509.1 391.4 3505.8 396.2 3504.5 400.0C3503.3 403.6 3502.8 408.6 3503.5 412.5C3504.5 417.7 3509.1 425.8 3510.5 432.5C3511.9 439.0 3512.9 446.3 3512.0 452.5C3511.1 458.7 3508.0 467.6 3504.5 472.5C3501.0 477.4 3491.6 482.9 3487.0 487.5C3483.2 491.3 3478.3 496.4 3477.0 500.0C3475.6 503.9 3476.2 513.4 3475.5 520.0C3474.7 527.9 3473.4 543.5 3472.0 547.5C3471.0 550.3 3462.0 557.5 3462.0 557.5C3462.0 557.5 3455.1 549.8 3452.0 548.5C3448.7 547.1 3435.5 546.0 3435.5 546.0"/>
<path d="M3613.5 1136.5C3613.5 1136.5 3619.5 1124.0 3619.5 1124.0C3619.5 1124.0 3627.6 1135.9 3632.0 1139.0C3636.5 1142.1 3646.2 1143.2 3652.0 1146.5C3657.7 1149.7 3663.7 1154.6 3667.0 1159.0C3670.3 1163.4 3671.9 1172.6 3674.5 1176.5C3676.7 1179.8 3684.5 1185.0 3684.5 1185.0C3684.5 1185.0 3694.2 1178.7 3699.5 1176.5C3704.9 1174.2 3712.9 1171.2 3717.0 1171.5C3721.2 1171.8 3730.8 1175.5 3737.0 1179.0C3743.7 1182.8 3750.3 1189.4 3757.0 1194.0C3763.5 1198.5 3772.0 1202.3 3777.0 1206.5C3781.1 1209.9 3784.1 1216.1 3787.0 1219.0C3789.1 1221.1 3791.9 1222.5 3794.5 1224.0C3798.7 1226.5 3809.8 1234.0 3812.0 1234.0C3814.3 1234.0 3828.2 1226.0 3837.0 1224.0C3846.2 1221.9 3857.0 1221.9 3867.0 1221.5C3877.0 1221.1 3887.8 1220.2 3897.0 1221.5C3905.6 1222.7 3914.2 1225.1 3922.0 1229.0C3930.3 1233.2 3939.5 1240.2 3947.0 1246.5C3954.2 1252.5 3967.0 1266.5 3967.0 1266.5C3967.0 1266.5 3977.0 1254.0 3977.0 1254.0"/>
<path d="M3787.0 1219.0C3787.0 1219.0 3777.2 1229.2 3772.0 1234.0C3765.8 1239.8 3757.0 1248.2 3749.5 1254.0C3742.4 1259.5 3734.1 1264.8 3727.0 1269.0C3720.6 1272.8 3709.8 1276.8 3707.0 1279.0C3705.1 1280.5 3702.0 1289.0 3702.0 1289.0"/>
<path d="M3703.0 1304.0C3703.0 1304.0 3712.5 1326.2 3717.0 1331.5C3721.0 1336.3 3730.4 1342.0 3737.0 1344.0C3744.3 1346.2 3757.8 1346.9 3767.0 1346.5C3775.5 1346.1 3787.2 1344.4 3792.0 1341.5C3796.9 1338.5 3805.2 1323.4 3812.0 1319.0C3818.8 1314.6 3839.6 1309.0 3842.0 1309.0C3843.9 1309.0 3857.0 1319.0 3857.0 1319.0C3857.0 1319.0 3863.7 1304.4 3867.0 1299.0C3869.8 1294.5 3875.3 1287.1 3877.0 1286.5C3878.9 1285.8 3894.0 1284.7 3902.0 1286.5C3911.0 1288.6 3922.8 1296.5 3932.0 1299.0C3940.1 1301.2 3955.0 1302.4 3957.0 1301.5C3959.0 1300.6 3977.0 1279.0 3977.0 1279.0"/>
<path d="M3828.0 879.0C3828.0 879.0 3850.4 885.7 3862.0 886.5C3876.0 887.5 3895.3 885.4 3912.0 885.0C3931.2 884.6 3977.0 884.0 3977.0 884.0"/>
<path d="M3899.5 764.0C3899.5 764.0 3920.8 754.4 3932.0 751.5C3944.9 748.2 3977.0 744.0 3977.0 744.0"/>
<path d="M3678.8 1423.9C3678.8 1423.9 3694.4 1439.7 3698.7 1443.7C3700.5 1445.3 3702.5 1446.7 3704.5 1448.0C3710.1 1451.6 3722.1 1461.1 3732.0 1465.5C3742.4 1470.1 3755.9 1474.7 3767.0 1475.5C3778.1 1476.3 3790.6 1473.4 3802.0 1470.5C3813.7 1467.6 3827.8 1460.9 3837.0 1458.0C3843.5 1455.9 3852.6 1453.0 3857.0 1453.0C3861.0 1453.0 3868.1 1455.4 3872.0 1458.0C3876.5 1461.0 3882.8 1467.3 3887.0 1473.0C3892.0 1479.7 3897.8 1489.7 3902.0 1498.0C3906.0 1506.0 3909.5 1515.5 3912.0 1523.0C3914.2 1529.5 3917.0 1543.0 3917.0 1543.0C3917.0 1543.0 3937.6 1546.8 3947.0 1548.0C3955.8 1549.2 3973.5 1550.5 3973.5 1550.5"/>
<path d="M3797.0 1473.0C3797.0 1473.0 3802.0 1496.8 3804.5 1508.0C3806.9 1518.9 3810.0 1529.6 3812.0 1540.5C3814.1 1552.2 3816.6 1567.6 3817.0 1578.0C3817.3 1586.4 3816.3 1599.0 3814.5 1603.0C3812.8 1606.9 3804.1 1612.6 3799.5 1618.0C3794.5 1623.8 3787.8 1631.5 3784.5 1638.0C3781.5 1644.0 3780.7 1651.2 3779.5 1658.0C3778.2 1665.3 3777.0 1682.0 3777.0 1682.0"/>
<path d="M3659.5 1535.5C3659.5 1535.5 3668.3 1524.3 3672.0 1523.0C3677.2 1521.1 3695.2 1518.7 3707.0 1518.0C3720.3 1517.2 3738.7 1516.3 3752.0 1518.0C3764.0 1519.5 3777.0 1524.2 3787.0 1528.0C3795.7 1531.3 3812.0 1540.5 3812.0 1540.5"/>
<path d="M3659.5 1535.5C3659.5 1535.5 3667.0 1557.5 3672.0 1568.0C3677.4 1579.2 3683.8 1592.3 3692.0 1603.0C3700.3 1613.8 3711.2 1623.9 3722.0 1633.0C3732.8 1642.2 3747.8 1651.8 3757.0 1658.0C3763.5 1662.4 3777.0 1670.5 3777.0 1670.5"/>
<path d="M3817.0 1722.0C3817.0 1722.0 3822.9 1696.0 3824.5 1693.0C3825.6 1690.9 3834.0 1686.0 3837.0 1685.5C3840.4 1685.0 3853.4 1685.7 3857.0 1688.0C3862.1 1691.2 3884.5 1715.5 3884.5 1715.5C3884.5 1715.5 3902.3 1702.7 3912.0 1700.5C3926.2 1697.3 3973.5 1695.5 3973.5 1695.5"/>
<path d="M3884.5 1715.5C3884.5 1715.5 3875.6 1735.0 3874.5 1743.0C3873.4 1750.6 3874.7 1763.5 3877.0 1768.0C3879.3 1772.6 3895.1 1787.6 3897.0 1788.0C3898.9 1788.4 3921.6 1784.2 3932.0 1780.5C3941.8 1777.0 3956.7 1766.2 3959.5 1765.5C3961.4 1765.0 3973.5 1770.5 3973.5 1770.5"/>
<path d="M3897.0 1788.0C3897.0 1788.0 3895.2 1805.1 3892.0 1813.0C3888.7 1821.3 3882.5 1830.0 3877.0 1838.0C3871.3 1846.2 3858.0 1862.0 3858.0 1862.0"/>
<path d="M2461.1 1722.1C2461.1 1722.1 2466.6 1714.9 2467.9 1714.5C2469.2 1714.0 2481.3 1714.5 2481.3 1714.5C2481.3 1714.5 2484.0 1723.3 2485.8 1726.6C2487.5 1729.5 2491.3 1733.7 2492.6 1734.2C2493.9 1734.7 2501.6 1735.0 2506.0 1734.2C2511.2 1733.3 2518.0 1730.5 2524.0 1728.8C2529.9 1727.2 2536.7 1725.5 2541.9 1724.3C2546.4 1723.4 2552.1 1721.8 2555.4 1722.1C2558.5 1722.4 2564.0 1724.5 2566.6 1726.6C2569.4 1728.8 2574.6 1735.5 2575.6 1737.8C2576.4 1740.0 2576.2 1747.3 2575.6 1749.0C2574.9 1750.8 2571.1 1754.1 2568.8 1756.6C2566.2 1759.6 2561.9 1763.5 2559.9 1767.0C2557.9 1770.3 2556.4 1774.4 2556.3 1778.2C2556.1 1784.3 2558.7 1796.1 2559.0 1805.1C2559.2 1814.1 2558.6 1823.8 2557.6 1832.0C2556.7 1839.6 2554.8 1849.1 2553.1 1854.5C2552.0 1858.1 2548.9 1863.0 2547.3 1864.3C2545.7 1865.7 2540.7 1866.7 2537.4 1867.9C2534.1 1869.1 2527.5 1871.5 2527.5 1871.5C2527.5 1871.5 2527.4 1879.3 2528.4 1881.4C2529.9 1884.2 2536.5 1890.7 2539.7 1894.8C2542.4 1898.4 2546.9 1904.0 2547.3 1906.1C2547.6 1908.1 2545.4 1917.3 2544.2 1921.8C2543.1 1925.6 2540.9 1929.2 2539.7 1933.0C2538.4 1936.7 2536.4 1941.4 2536.5 1944.2C2536.7 1947.2 2540.1 1953.2 2541.0 1957.7C2541.9 1962.1 2542.7 1967.6 2541.9 1971.1C2541.1 1974.7 2537.0 1980.1 2535.2 1984.6C2533.4 1988.9 2531.7 1994.3 2530.7 1998.0C2529.9 2001.0 2529.3 2007.0 2529.3 2007.0"/>
<path d="M3049.7 1110.6C3049.7 1110.6 3061.3 1112.3 3067.1 1112.4C3072.9 1112.5 3079.1 1112.4 3084.5 1111.1C3089.7 1109.9 3094.3 1106.7 3099.4 1104.9C3104.7 1103.1 3111.4 1100.8 3116.7 1100.0C3121.7 1099.2 3126.9 1098.9 3131.6 1100.0C3136.9 1101.2 3143.5 1104.3 3149.0 1107.4C3155.2 1110.9 3163.5 1116.9 3168.9 1121.1C3173.3 1124.5 3178.1 1129.0 3181.3 1132.2C3183.8 1134.8 3188.0 1140.4 3188.0 1140.4C3188.0 1140.4 3191.3 1132.6 3192.5 1128.5C3193.7 1124.5 3195.0 1116.1 3195.0 1116.1"/>
<path d="M3177.6 1234.1C3177.6 1234.1 3177.3 1225.0 3177.6 1220.4C3177.9 1215.7 3178.5 1209.4 3179.3 1205.5C3180.0 1202.5 3181.6 1198.1 3182.6 1196.8C3183.5 1195.6 3188.7 1193.1 3188.8 1193.1C3188.8 1193.1 3194.6 1196.2 3196.2 1198.1C3197.9 1200.1 3200.1 1204.5 3201.2 1208.0C3202.5 1212.1 3203.3 1218.6 3204.2 1222.9C3204.9 1226.6 3206.2 1234.1 3206.2 1234.1"/>
</g>
<g fill="none" stroke="#FFFFFF" stroke-width="2.4" stroke-linejoin="round" stroke-linecap="round">
<path d="M3355.0 1361.5C3355.0 1361.5 3354.9 1368.8 3355.6 1372.4C3356.2 1376.0 3357.4 1380.1 3359.1 1383.3C3360.8 1386.4 3363.5 1389.7 3365.9 1391.4C3368.3 1393.1 3373.1 1394.3 3376.8 1395.5C3380.8 1396.9 3385.8 1398.2 3390.4 1399.6C3394.9 1400.9 3401.9 1403.3 3404.0 1403.7C3405.0 1403.8 3406.9 1402.3 3408.0 1402.3C3409.5 1402.3 3412.7 1402.7 3414.8 1403.7C3418.0 1405.0 3426.5 1410.4 3427.1 1410.5C3427.7 1410.5 3433.7 1406.8 3436.6 1405.0C3439.4 1403.3 3441.8 1400.6 3444.8 1399.6C3448.6 1398.3 3455.6 1397.4 3461.1 1396.9C3466.5 1396.3 3473.3 1395.9 3477.4 1396.3C3480.2 1396.6 3483.9 1397.7 3485.5 1399.0C3487.4 1400.4 3490.1 1404.9 3492.3 1407.7C3494.6 1410.5 3496.4 1413.9 3499.1 1415.9C3502.4 1418.3 3507.9 1421.2 3512.7 1422.7C3518.6 1424.5 3527.2 1425.8 3534.5 1426.8C3542.7 1427.9 3553.5 1428.4 3561.7 1429.5C3569.0 1430.5 3579.0 1433.7 3583.4 1433.6C3587.2 1433.4 3592.8 1430.5 3597.0 1428.1C3601.6 1425.6 3606.1 1421.2 3610.6 1418.6C3614.9 1416.2 3619.4 1413.7 3624.2 1412.6C3630.1 1411.3 3639.7 1411.5 3646.0 1410.5C3651.5 1409.5 3659.2 1407.8 3662.3 1406.4C3664.6 1405.3 3669.1 1399.6 3669.1 1399.6"/>
<path d="M3404.0 1403.7C3404.0 1403.7 3404.2 1412.5 3404.0 1415.9C3403.8 1418.6 3403.7 1421.5 3402.6 1424.0C3401.3 1427.2 3398.3 1432.0 3395.8 1434.9C3393.5 1437.6 3390.4 1440.5 3387.6 1441.7C3384.6 1443.1 3378.6 1444.1 3374.0 1444.4C3369.5 1444.8 3363.7 1444.5 3360.5 1443.6C3357.7 1442.9 3354.8 1440.7 3352.3 1439.0C3349.9 1437.4 3345.5 1433.6 3345.5 1433.6C3345.5 1433.6 3342.1 1437.9 3341.4 1440.4C3340.3 1444.6 3340.1 1453.4 3338.7 1459.4C3337.4 1465.2 3333.3 1476.3 3333.3 1476.3C3333.3 1476.3 3326.5 1469.7 3323.7 1466.2C3321.1 1462.8 3319.0 1458.9 3316.9 1455.3C3315.0 1451.8 3313.1 1446.9 3311.5 1444.4C3310.5 1442.8 3307.4 1440.4 3307.4 1440.4C3307.4 1440.4 3302.6 1443.7 3300.6 1445.8C3298.4 1448.3 3296.7 1452.7 3293.8 1455.3C3290.7 1458.3 3285.9 1461.8 3281.6 1463.5C3277.1 1465.2 3270.7 1465.7 3265.3 1466.2C3259.9 1466.7 3253.9 1466.4 3249.0 1466.7C3244.4 1467.0 3238.8 1468.2 3235.4 1468.1C3233.0 1468.0 3228.6 1466.2 3228.6 1466.2C3228.6 1466.2 3228.1 1455.3 3227.2 1451.2C3226.4 1447.9 3224.0 1442.7 3223.1 1441.7C3222.3 1440.9 3217.7 1439.0 3216.3 1439.0C3214.9 1439.0 3210.9 1441.0 3208.2 1441.7C3205.5 1442.5 3200.0 1443.6 3200.0 1443.6"/>
<path d="M3228.6 1467.6C3228.6 1467.6 3232.4 1478.9 3234.0 1483.9C3235.4 1488.4 3238.2 1494.6 3238.1 1497.5C3237.9 1500.3 3234.4 1506.5 3232.6 1511.1C3230.8 1515.6 3228.3 1520.1 3227.2 1524.7C3226.1 1529.1 3225.6 1533.7 3225.8 1538.3C3226.1 1542.8 3227.0 1547.5 3228.6 1551.9C3230.1 1556.4 3232.7 1561.1 3235.4 1565.5C3238.1 1570.0 3241.2 1575.2 3244.9 1579.1C3248.4 1582.8 3253.7 1586.1 3257.1 1588.6C3259.7 1590.5 3265.0 1593.3 3265.3 1594.0C3265.6 1594.8 3265.3 1609.0 3265.3 1609.0"/>
</g>
<circle cx="3468.6" cy="1626.8" r="36.7" fill="#FFC000"/>
<circle cx="3291.1" cy="1409.9" r="36.7" fill="#FFC000"/>
<circle cx="3011.2" cy="1429.1" r="36.7" fill="#FFC000"/>
<circle cx="2828.2" cy="1036.6" r="36.7" fill="#FFC000"/>
<circle cx="3616.1" cy="1358.2" r="36.7" fill="#FFC000"/>
<circle cx="3367.5" cy="1142" r="36.7" fill="#FFC000"/>
</svg>
</div>
<svg id="gfx" width="4000" height="2250" viewBox="0 0 4000 2250">
<line x1="427" y1="528.6" x2="2027" y2="528.6" stroke="#BDBDBD" stroke-width="1.4"/>
<line x1="214.6" y1="590.4" x2="2027" y2="590.4" stroke="#7F7F7F" stroke-width="3.5" stroke-dasharray="23.7 9.3"/>
<rect x="854.2" y="580" width="468.9" height="20" fill="#F2F2F2"/>
<path d="M214.1 651.5L214.1 625.2L258.3 625.2L258.3 622.3L302.5 622.3L302.5 617.3L346.8 617.3L346.8 615.3L391.0 615.3L391.0 618.2L435.2 618.2L435.2 615.3L479.4 615.3L479.4 614.1L523.6 614.1L523.6 611.2L567.9 611.2L567.9 625.2L612.1 625.2L612.1 629.3L656.3 629.3L656.3 625.2L700.5 625.2L700.5 612.2L744.7 612.2L744.7 604.3L789.0 604.3L789.0 607.2L833.2 607.2L833.2 619.2L877.4 619.2L877.4 623.3L921.6 623.3L921.6 624.2L965.8 624.2L965.8 624.2L1010.1 624.2L1010.1 616.3L1054.3 616.3L1054.3 617.3L1098.5 617.3L1098.5 608.4L1142.7 608.4L1142.7 616.3L1186.9 616.3L1186.9 622.3L1231.2 622.3L1231.2 617.3L1275.4 617.3L1275.4 615.3L1319.6 615.3L1319.6 618.2L1363.8 618.2L1363.8 616.0L1408.0 616.0L1408.0 607.1L1452.3 607.1L1452.3 600.8L1496.5 600.8L1496.5 593.6L1540.7 593.6L1540.7 651.5Z" fill="#FFC000"/>
<path d="M1540.7 651.5L1540.7 586.8L1584.9 586.8L1584.9 572.8L1629.1 572.8L1629.1 527.8L1673.4 527.8L1673.4 531.7L1717.6 531.7L1717.6 505.6L1761.8 505.6L1761.8 493.7L1806.0 493.7L1806.0 493.7L1850.2 493.7L1850.2 508.8L1894.5 508.8L1894.5 554.0L1938.7 554.0L1938.7 576.9L1982.9 576.9L1982.9 651.5Z" fill="#C00000"/>
<path d="M1982.9 651.5L1982.9 601.9L2027.1 601.9L2027.1 651.5Z" fill="#FFC000"/>
<rect x="213.1" y="650.0" width="1816.8" height="3.2" fill="#7F7F7F"/>
<path d="M214.6 650V663.4M258.8 650V663.4M303.1 650V663.4M347.3 650V663.4M391.6 650V663.4M435.8 650V663.4M480.0 650V663.4M524.3 650V663.4M568.5 650V663.4M612.8 650V663.4M657.0 650V663.4M701.2 650V663.4M745.5 650V663.4M789.7 650V663.4M834.0 650V663.4M878.2 650V663.4M922.4 650V663.4M966.7 650V663.4M1010.9 650V663.4M1055.2 650V663.4M1099.4 650V663.4M1143.6 650V663.4M1187.9 650V663.4M1232.1 650V663.4M1276.4 650V663.4M1320.6 650V663.4M1364.8 650V663.4M1409.1 650V663.4M1453.3 650V663.4M1497.6 650V663.4M1541.8 650V663.4M1586.0 650V663.4M1630.3 650V663.4M1674.5 650V663.4M1718.8 650V663.4M1763.0 650V663.4M1807.2 650V663.4M1851.5 650V663.4M1895.7 650V663.4M1940.0 650V663.4M1984.2 650V663.4M2028.4 650V663.4" stroke="#7F7F7F" stroke-width="2.9" fill="none"/>
<circle cx="172.9" cy="518.7" r="31.2" fill="#FFF2D2" stroke="#FDB913" stroke-width="3"/>
<line x1="427" y1="789.6" x2="2027" y2="789.6" stroke="#BDBDBD" stroke-width="1.4"/>
<line x1="214.6" y1="851.4" x2="2027" y2="851.4" stroke="#7F7F7F" stroke-width="3.5" stroke-dasharray="23.7 9.3"/>
<path d="M214.1 912.5L214.1 885.2L258.3 885.2L258.3 883.3L302.5 883.3L302.5 890.3L346.8 890.3L346.8 892.2L391.0 892.2L391.0 896.3L435.2 896.3L435.2 898.2L479.4 898.2L479.4 891.3L523.6 891.3L523.6 884.3L567.9 884.3L567.9 894.2L612.1 894.2L612.1 892.2L656.3 892.2L656.3 885.2L700.5 885.2L700.5 885.2L744.7 885.2L744.7 886.2L789.0 886.2L789.0 889.3L833.2 889.3L833.2 890.3L877.4 890.3L877.4 889.3L921.6 889.3L921.6 892.2L965.8 892.2L965.8 887.2L1010.1 887.2L1010.1 889.3L1054.3 889.3L1054.3 890.3L1098.5 890.3L1098.5 890.3L1142.7 890.3L1142.7 893.2L1186.9 893.2L1186.9 892.2L1231.2 892.2L1231.2 888.4L1275.4 888.4L1275.4 886.2L1319.6 886.2L1319.6 888.4L1363.8 888.4L1363.8 884.0L1408.0 884.0L1408.0 878.7L1452.3 878.7L1452.3 885.8L1496.5 885.8L1496.5 885.8L1540.7 885.8L1540.7 887.9L1584.9 887.9L1584.9 856.6L1629.1 856.6L1629.1 912.5Z" fill="#FFC000"/>
<path d="M1629.1 912.5L1629.1 828.8L1673.4 828.8L1673.4 770.8L1717.6 770.8L1717.6 766.6L1761.8 766.6L1761.8 805.7L1806.0 805.7L1806.0 808.8L1850.2 808.8L1850.2 826.7L1894.5 826.7L1894.5 912.5Z" fill="#C00000"/>
<path d="M1894.5 912.5L1894.5 855.6L1938.7 855.6L1938.7 877.7L1982.9 877.7L1982.9 873.8L2027.1 873.8L2027.1 912.5Z" fill="#FFC000"/>
<rect x="213.1" y="911.0" width="1816.8" height="3.2" fill="#7F7F7F"/>
<path d="M214.6 911V924.4M258.8 911V924.4M303.1 911V924.4M347.3 911V924.4M391.6 911V924.4M435.8 911V924.4M480.0 911V924.4M524.3 911V924.4M568.5 911V924.4M612.8 911V924.4M657.0 911V924.4M701.2 911V924.4M745.5 911V924.4M789.7 911V924.4M834.0 911V924.4M878.2 911V924.4M922.4 911V924.4M966.7 911V924.4M1010.9 911V924.4M1055.2 911V924.4M1099.4 911V924.4M1143.6 911V924.4M1187.9 911V924.4M1232.1 911V924.4M1276.4 911V924.4M1320.6 911V924.4M1364.8 911V924.4M1409.1 911V924.4M1453.3 911V924.4M1497.6 911V924.4M1541.8 911V924.4M1586.0 911V924.4M1630.3 911V924.4M1674.5 911V924.4M1718.8 911V924.4M1763.0 911V924.4M1807.2 911V924.4M1851.5 911V924.4M1895.7 911V924.4M1940.0 911V924.4M1984.2 911V924.4M2028.4 911V924.4" stroke="#7F7F7F" stroke-width="2.9" fill="none"/>
<circle cx="172.9" cy="779.7" r="31.2" fill="#FFF2D2" stroke="#FDB913" stroke-width="3"/>
<line x1="427" y1="1050.6" x2="2027" y2="1050.6" stroke="#BDBDBD" stroke-width="1.4"/>
<line x1="214.6" y1="1112.4" x2="2027" y2="1112.4" stroke="#7F7F7F" stroke-width="3.5" stroke-dasharray="23.7 9.3"/>
<path d="M214.1 1173.5L214.1 1140.2L258.3 1140.2L258.3 1143.1L302.5 1143.1L302.5 1144.3L346.8 1144.3L346.8 1146.2L391.0 1146.2L391.0 1150.3L435.2 1150.3L435.2 1149.4L479.4 1149.4L479.4 1143.1L523.6 1143.1L523.6 1140.2L567.9 1140.2L567.9 1147.2L612.1 1147.2L612.1 1142.2L656.3 1142.2L656.3 1138.3L700.5 1138.3L700.5 1137.3L744.7 1137.3L744.7 1140.2L789.0 1140.2L789.0 1140.2L833.2 1140.2L833.2 1145.3L877.4 1145.3L877.4 1147.2L921.6 1147.2L921.6 1146.2L965.8 1146.2L965.8 1148.2L1010.1 1148.2L1010.1 1149.4L1054.3 1149.4L1054.3 1148.2L1098.5 1148.2L1098.5 1149.4L1142.7 1149.4L1142.7 1151.3L1186.9 1151.3L1186.9 1149.4L1231.2 1149.4L1231.2 1144.3L1275.4 1144.3L1275.4 1138.3L1319.6 1138.3L1319.6 1139.3L1363.8 1139.3L1363.8 1134.0L1408.0 1134.0L1408.0 1143.6L1452.3 1143.6L1452.3 1147.8L1496.5 1147.8L1496.5 1147.8L1540.7 1147.8L1540.7 1144.7L1584.9 1144.7L1584.9 1130.6L1629.1 1130.6L1629.1 1173.5Z" fill="#FFC000"/>
<path d="M1629.1 1173.5L1629.1 1090.9L1673.4 1090.9L1673.4 1055.7L1717.6 1055.7L1717.6 1069.8L1761.8 1069.8L1761.8 1084.9L1806.0 1084.9L1806.0 1081.7L1850.2 1081.7L1850.2 1096.8L1894.5 1096.8L1894.5 1173.5Z" fill="#C00000"/>
<path d="M1894.5 1173.5L1894.5 1123.6L1938.7 1123.6L1938.7 1129.9L1982.9 1129.9L1982.9 1128.8L2027.1 1128.8L2027.1 1173.5Z" fill="#FFC000"/>
<rect x="213.1" y="1172.0" width="1816.8" height="3.2" fill="#7F7F7F"/>
<path d="M214.6 1172V1185.4M258.8 1172V1185.4M303.1 1172V1185.4M347.3 1172V1185.4M391.6 1172V1185.4M435.8 1172V1185.4M480.0 1172V1185.4M524.3 1172V1185.4M568.5 1172V1185.4M612.8 1172V1185.4M657.0 1172V1185.4M701.2 1172V1185.4M745.5 1172V1185.4M789.7 1172V1185.4M834.0 1172V1185.4M878.2 1172V1185.4M922.4 1172V1185.4M966.7 1172V1185.4M1010.9 1172V1185.4M1055.2 1172V1185.4M1099.4 1172V1185.4M1143.6 1172V1185.4M1187.9 1172V1185.4M1232.1 1172V1185.4M1276.4 1172V1185.4M1320.6 1172V1185.4M1364.8 1172V1185.4M1409.1 1172V1185.4M1453.3 1172V1185.4M1497.6 1172V1185.4M1541.8 1172V1185.4M1586.0 1172V1185.4M1630.3 1172V1185.4M1674.5 1172V1185.4M1718.8 1172V1185.4M1763.0 1172V1185.4M1807.2 1172V1185.4M1851.5 1172V1185.4M1895.7 1172V1185.4M1940.0 1172V1185.4M1984.2 1172V1185.4M2028.4 1172V1185.4" stroke="#7F7F7F" stroke-width="2.9" fill="none"/>
<circle cx="172.9" cy="1040.7" r="31.2" fill="#FFF2D2" stroke="#FDB913" stroke-width="3"/>
<line x1="573.2" y1="1311.6" x2="2027" y2="1311.6" stroke="#BDBDBD" stroke-width="1.4"/>
<line x1="214.6" y1="1373.4" x2="2027" y2="1373.4" stroke="#7F7F7F" stroke-width="3.5" stroke-dasharray="23.7 9.3"/>
<path d="M214.1 1435.5L214.1 1407.3L258.3 1407.3L258.3 1403.2L302.5 1403.2L302.5 1403.2L346.8 1403.2L346.8 1398.1L391.0 1398.1L391.0 1397.2L435.2 1397.2L435.2 1399.3L479.4 1399.3L479.4 1397.2L523.6 1397.2L523.6 1398.1L567.9 1398.1L567.9 1400.3L612.1 1400.3L612.1 1399.3L656.3 1399.3L656.3 1392.4L700.5 1392.4L700.5 1398.1L744.7 1398.1L744.7 1403.2L789.0 1403.2L789.0 1401.3L833.2 1401.3L833.2 1407.3L877.4 1407.3L877.4 1409.2L921.6 1409.2L921.6 1405.1L965.8 1405.1L965.8 1412.3L1010.1 1412.3L1010.1 1411.4L1054.3 1411.4L1054.3 1413.3L1098.5 1413.3L1098.5 1411.4L1142.7 1411.4L1142.7 1409.2L1186.9 1409.2L1186.9 1411.4L1231.2 1411.4L1231.2 1410.2L1275.4 1410.2L1275.4 1408.2L1319.6 1408.2L1319.6 1411.4L1363.8 1411.4L1363.8 1409.0L1408.0 1409.0L1408.0 1411.6L1452.3 1411.6L1452.3 1411.6L1496.5 1411.6L1496.5 1414.8L1540.7 1414.8L1540.7 1412.7L1584.9 1412.7L1584.9 1399.7L1629.1 1399.7L1629.1 1435.5Z" fill="#FFC000"/>
<path d="M1629.1 1435.5L1629.1 1323.7L1673.4 1323.7L1673.4 1435.5Z" fill="#C00000"/>
<path d="M1673.4 1435.5L1673.4 1395.8L1717.6 1395.8L1717.6 1391.6L1761.8 1391.6L1761.8 1376.8L1806.0 1376.8L1806.0 1386.7L1850.2 1386.7L1850.2 1393.7L1894.5 1393.7L1894.5 1400.7L1938.7 1400.7L1938.7 1400.7L1982.9 1400.7L1982.9 1393.7L2027.1 1393.7L2027.1 1435.5Z" fill="#FFC000"/>
<rect x="213.1" y="1434.0" width="1816.8" height="3.2" fill="#7F7F7F"/>
<path d="M214.6 1434V1447.4M258.8 1434V1447.4M303.1 1434V1447.4M347.3 1434V1447.4M391.6 1434V1447.4M435.8 1434V1447.4M480.0 1434V1447.4M524.3 1434V1447.4M568.5 1434V1447.4M612.8 1434V1447.4M657.0 1434V1447.4M701.2 1434V1447.4M745.5 1434V1447.4M789.7 1434V1447.4M834.0 1434V1447.4M878.2 1434V1447.4M922.4 1434V1447.4M966.7 1434V1447.4M1010.9 1434V1447.4M1055.2 1434V1447.4M1099.4 1434V1447.4M1143.6 1434V1447.4M1187.9 1434V1447.4M1232.1 1434V1447.4M1276.4 1434V1447.4M1320.6 1434V1447.4M1364.8 1434V1447.4M1409.1 1434V1447.4M1453.3 1434V1447.4M1497.6 1434V1447.4M1541.8 1434V1447.4M1586.0 1434V1447.4M1630.3 1434V1447.4M1674.5 1434V1447.4M1718.8 1434V1447.4M1763.0 1434V1447.4M1807.2 1434V1447.4M1851.5 1434V1447.4M1895.7 1434V1447.4M1940.0 1434V1447.4M1984.2 1434V1447.4M2028.4 1434V1447.4" stroke="#7F7F7F" stroke-width="2.9" fill="none"/>
<circle cx="172.9" cy="1301.7" r="31.2" fill="#FFF2D2" stroke="#FDB913" stroke-width="3"/>
<line x1="427" y1="1572.6" x2="2027" y2="1572.6" stroke="#BDBDBD" stroke-width="1.4"/>
<line x1="214.6" y1="1634.4" x2="2027" y2="1634.4" stroke="#7F7F7F" stroke-width="3.5" stroke-dasharray="23.7 9.3"/>
<path d="M214.1 1696.5L214.1 1662.0L258.3 1662.0L258.3 1669.0L302.5 1669.0L302.5 1670.0L346.8 1670.0L346.8 1666.1L391.0 1666.1L391.0 1667.1L435.2 1667.1L435.2 1667.1L479.4 1667.1L479.4 1664.0L523.6 1664.0L523.6 1666.1L567.9 1666.1L567.9 1674.1L612.1 1674.1L612.1 1672.1L656.3 1672.1L656.3 1671.2L700.5 1671.2L700.5 1662.0L744.7 1662.0L744.7 1650.0L789.0 1650.0L789.0 1642.0L833.2 1642.0L833.2 1657.9L877.4 1657.9L877.4 1670.0L921.6 1670.0L921.6 1673.1L965.8 1673.1L965.8 1672.1L1010.1 1672.1L1010.1 1669.0L1054.3 1669.0L1054.3 1673.1L1098.5 1673.1L1098.5 1671.2L1142.7 1671.2L1142.7 1676.9L1186.9 1676.9L1186.9 1675.0L1231.2 1675.0L1231.2 1672.1L1275.4 1672.1L1275.4 1667.1L1319.6 1667.1L1319.6 1667.1L1363.8 1667.1L1363.8 1669.9L1408.0 1669.9L1408.0 1664.6L1452.3 1664.6L1452.3 1672.6L1496.5 1672.6L1496.5 1666.6L1540.7 1666.6L1540.7 1662.7L1584.9 1662.7L1584.9 1661.7L1629.1 1661.7L1629.1 1651.6L1673.4 1651.6L1673.4 1696.5Z" fill="#FFC000"/>
<path d="M1673.4 1696.5L1673.4 1612.8L1717.6 1612.8L1717.6 1595.6L1761.8 1595.6L1761.8 1696.5Z" fill="#C00000"/>
<path d="M1761.8 1696.5L1761.8 1634.7L1806.0 1634.7L1806.0 1644.5L1850.2 1644.5L1850.2 1658.6L1894.5 1658.6L1894.5 1650.5L1938.7 1650.5L1938.7 1664.6L1982.9 1664.6L1982.9 1661.7L2027.1 1661.7L2027.1 1696.5Z" fill="#FFC000"/>
<rect x="213.1" y="1695.0" width="1816.8" height="3.2" fill="#7F7F7F"/>
<path d="M214.6 1695V1708.4M258.8 1695V1708.4M303.1 1695V1708.4M347.3 1695V1708.4M391.6 1695V1708.4M435.8 1695V1708.4M480.0 1695V1708.4M524.3 1695V1708.4M568.5 1695V1708.4M612.8 1695V1708.4M657.0 1695V1708.4M701.2 1695V1708.4M745.5 1695V1708.4M789.7 1695V1708.4M834.0 1695V1708.4M878.2 1695V1708.4M922.4 1695V1708.4M966.7 1695V1708.4M1010.9 1695V1708.4M1055.2 1695V1708.4M1099.4 1695V1708.4M1143.6 1695V1708.4M1187.9 1695V1708.4M1232.1 1695V1708.4M1276.4 1695V1708.4M1320.6 1695V1708.4M1364.8 1695V1708.4M1409.1 1695V1708.4M1453.3 1695V1708.4M1497.6 1695V1708.4M1541.8 1695V1708.4M1586.0 1695V1708.4M1630.3 1695V1708.4M1674.5 1695V1708.4M1718.8 1695V1708.4M1763.0 1695V1708.4M1807.2 1695V1708.4M1851.5 1695V1708.4M1895.7 1695V1708.4M1940.0 1695V1708.4M1984.2 1695V1708.4M2028.4 1695V1708.4" stroke="#7F7F7F" stroke-width="2.9" fill="none"/>
<circle cx="172.9" cy="1562.7" r="31.2" fill="#FFF2D2" stroke="#FDB913" stroke-width="3"/>
<line x1="427" y1="1833.6" x2="2027" y2="1833.6" stroke="#BDBDBD" stroke-width="1.4"/>
<line x1="214.6" y1="1895.4" x2="2027" y2="1895.4" stroke="#7F7F7F" stroke-width="3.5" stroke-dasharray="23.7 9.3"/>
<path d="M214.1 1957.5L214.1 1921.1L258.3 1921.1L258.3 1922.1L302.5 1922.1L302.5 1923.0L346.8 1923.0L346.8 1925.0L391.0 1925.0L391.0 1928.1L435.2 1928.1L435.2 1923.0L479.4 1923.0L479.4 1921.1L523.6 1921.1L523.6 1924.0L567.9 1924.0L567.9 1929.0L612.1 1929.0L612.1 1924.0L656.3 1924.0L656.3 1917.0L700.5 1917.0L700.5 1922.1L744.7 1922.1L744.7 1924.0L789.0 1924.0L789.0 1921.1L833.2 1921.1L833.2 1924.0L877.4 1924.0L877.4 1929.0L921.6 1929.0L921.6 1929.0L965.8 1929.0L965.8 1924.0L1010.1 1924.0L1010.1 1925.9L1054.3 1925.9L1054.3 1924.0L1098.5 1924.0L1098.5 1928.1L1142.7 1928.1L1142.7 1925.9L1186.9 1925.9L1186.9 1925.0L1231.2 1925.0L1231.2 1921.1L1275.4 1921.1L1275.4 1921.1L1319.6 1921.1L1319.6 1914.1L1363.8 1914.1L1363.8 1910.9L1408.0 1910.9L1408.0 1916.7L1452.3 1916.7L1452.3 1929.7L1496.5 1929.7L1496.5 1930.8L1540.7 1930.8L1540.7 1931.8L1584.9 1931.8L1584.9 1921.7L1629.1 1921.7L1629.1 1904.8L1673.4 1904.8L1673.4 1957.5Z" fill="#FFC000"/>
<path d="M1673.4 1957.5L1673.4 1856.6L1717.6 1856.6L1717.6 1889.7L1761.8 1889.7L1761.8 1894.6L1806.0 1894.6L1806.0 1890.7L1850.2 1890.7L1850.2 1894.6L1894.5 1894.6L1894.5 1957.5Z" fill="#C00000"/>
<path d="M1894.5 1957.5L1894.5 1902.7L1938.7 1902.7L1938.7 1915.7L1982.9 1915.7L1982.9 1906.6L2027.1 1906.6L2027.1 1957.5Z" fill="#FFC000"/>
<rect x="213.1" y="1956.0" width="1816.8" height="3.2" fill="#7F7F7F"/>
<path d="M214.6 1956V1969.4M258.8 1956V1969.4M303.1 1956V1969.4M347.3 1956V1969.4M391.6 1956V1969.4M435.8 1956V1969.4M480.0 1956V1969.4M524.3 1956V1969.4M568.5 1956V1969.4M612.8 1956V1969.4M657.0 1956V1969.4M701.2 1956V1969.4M745.5 1956V1969.4M789.7 1956V1969.4M834.0 1956V1969.4M878.2 1956V1969.4M922.4 1956V1969.4M966.7 1956V1969.4M1010.9 1956V1969.4M1055.2 1956V1969.4M1099.4 1956V1969.4M1143.6 1956V1969.4M1187.9 1956V1969.4M1232.1 1956V1969.4M1276.4 1956V1969.4M1320.6 1956V1969.4M1364.8 1956V1969.4M1409.1 1956V1969.4M1453.3 1956V1969.4M1497.6 1956V1969.4M1541.8 1956V1969.4M1586.0 1956V1969.4M1630.3 1956V1969.4M1674.5 1956V1969.4M1718.8 1956V1969.4M1763.0 1956V1969.4M1807.2 1956V1969.4M1851.5 1956V1969.4M1895.7 1956V1969.4M1940.0 1956V1969.4M1984.2 1956V1969.4M2028.4 1956V1969.4" stroke="#7F7F7F" stroke-width="2.9" fill="none"/>
<circle cx="172.9" cy="1823.7" r="31.2" fill="#FFF2D2" stroke="#FDB913" stroke-width="3"/>
<circle cx="580.7" cy="293.6" r="5.2" fill="none" stroke="#2F3B44" stroke-width="2.6"/><circle cx="580.7" cy="274" r="4.0" fill="none" stroke="#2F3B44" stroke-width="2.6"/><circle cx="580.7" cy="312.6" r="4.0" fill="none" stroke="#2F3B44" stroke-width="2.6"/><circle cx="563.7" cy="283.4" r="4.0" fill="none" stroke="#2F3B44" stroke-width="2.6"/><circle cx="597.3" cy="283.4" r="4.0" fill="none" stroke="#2F3B44" stroke-width="2.6"/><circle cx="563.7" cy="303.2" r="4.0" fill="none" stroke="#2F3B44" stroke-width="2.6"/><circle cx="597.3" cy="303.2" r="4.0" fill="none" stroke="#2F3B44" stroke-width="2.6"/>
<circle cx="1723.6" cy="2123.6" r="42.5" fill="none" stroke="#808080" stroke-width="8"/>
<path d="M1695.3 2151.5 L1714.3 2108.2 Q1717.5 2102.2 1723.4 2102.2 Q1729.3 2102.2 1732.5 2108.2 L1751.9 2151.5 A 44 44 0 0 1 1695.3 2151.5Z" fill="#808080"/>
<path d="M1710.3 2136.8 L1720.3 2112.6 Q1723.4 2107.6 1726.5 2112.6 L1737 2136.8Z" fill="#F2F2F2"/>
</svg>
<div style="position:absolute;left:1730px;top:124px;width:275px;height:85px;border-radius:43px;background:#fff"></div><div style="position:absolute;left:1747px;top:138.3px;width:56px;height:56px;border-radius:50%;background:radial-gradient(circle closest-side, rgba(192,0,0,0.6) 0%, rgba(192,0,0,0.52) 43%, rgba(192,0,0,0.3) 70%, rgba(192,0,0,0.12) 98%, rgba(192,0,0,0) 100%)"></div><div style="position:absolute;left:1763px;top:154.3px;width:24px;height:24px;border-radius:50%;background:#C00000"></div>
<div class="t" style="left:142.00px;top:105.75px;font-size:100px;color:#2F3B44;font-family:'Liberation Serif', serif;font-weight:700;font-style:italic;letter-spacing:3.851px;-webkit-text-stroke:1.5px #2F3B44;">Wildfire smoke isn’t only outdoors</div>
<div class="t" style="left:1821.00px;top:145.50px;font-size:43px;color:#2F3B44;font-family:'Liberation Sans', sans-serif;letter-spacing:0.067px;">Europe</div>
<div class="t" style="left:140.70px;top:272.30px;font-size:43px;color:#2F3B44;font-family:'Liberation Sans', sans-serif;font-weight:700;letter-spacing:0.830px;">Indoor air pollution</div>
<div class="t" style="left:215.00px;top:414.04px;font-size:33.5px;color:#808080;font-family:'Liberation Sans', sans-serif;font-weight:700;letter-spacing:0.598px;">Country</div>
<div class="t" style="left:2021.90px;top:413.54px;font-size:33.5px;color:#808080;font-family:'Liberation Sans', sans-serif;font-weight:700;letter-spacing:1.881px;">µg/m</div>
<div class="t" style="left:2108.90px;top:413.18px;font-size:22px;color:#808080;font-family:'Liberation Sans', sans-serif;font-weight:700;">3</div>
<div class="t" style="left:142.60px;top:322.84px;font-size:42.6px;color:#2F3B44;font-family:'Liberation Sans', sans-serif;letter-spacing:0.062px;">WHO guideline vs. daily average indoor PM</div>
<div class="t" style="left:972.60px;top:343.25px;font-size:29px;color:#2F3B44;font-family:'Liberation Sans', sans-serif;letter-spacing:-1.557px;">2.5</div>
<div class="t" style="left:1021.50px;top:322.84px;font-size:42.6px;color:#2F3B44;font-family:'Liberation Sans', sans-serif;letter-spacing:0.736px;">level of Airthings monitors from homes (2025)</div>
<div class="t" style="left:2050.00px;top:510.37px;font-size:33px;color:#808080;font-family:'Liberation Sans', sans-serif;letter-spacing:1.493px;">30</div>
<div class="t" style="left:2050.00px;top:571.97px;font-size:33px;color:#808080;font-family:'Liberation Sans', sans-serif;letter-spacing:1.493px;">15</div>
<div class="t" style="left:163.03px;top:498.52px;font-size:39.5px;color:#000;font-family:'Liberation Serif', serif;font-weight:700;font-style:italic;">1</div>
<div class="t" style="left:214.50px;top:501.07px;font-size:35px;color:#3B4A54;font-family:'Liberation Sans', sans-serif;">Italy</div>
<div class="t" style="left:187.97px;top:683.47px;font-size:33px;color:#808080;font-family:'Liberation Sans', sans-serif;letter-spacing:1.909px;">May/8</div>
<div class="t" style="left:1256.48px;top:683.47px;font-size:33px;color:#808080;font-family:'Liberation Sans', sans-serif;letter-spacing:0.818px;">Jun/1</div>
<div class="t" style="left:1521.92px;top:683.47px;font-size:33px;color:#808080;font-family:'Liberation Sans', sans-serif;letter-spacing:0.818px;">Jun/7</div>
<div class="t" style="left:1956.57px;top:683.47px;font-size:33px;color:#808080;font-family:'Liberation Sans', sans-serif;letter-spacing:0.084px;">Jun/17</div>
<div class="t" style="left:2050.00px;top:771.37px;font-size:33px;color:#808080;font-family:'Liberation Sans', sans-serif;letter-spacing:1.493px;">30</div>
<div class="t" style="left:2050.00px;top:832.97px;font-size:33px;color:#808080;font-family:'Liberation Sans', sans-serif;letter-spacing:1.493px;">15</div>
<div class="t" style="left:163.03px;top:759.52px;font-size:39.5px;color:#000;font-family:'Liberation Serif', serif;font-weight:700;font-style:italic;">2</div>
<div class="t" style="left:214.50px;top:762.07px;font-size:35px;color:#3B4A54;font-family:'Liberation Sans', sans-serif;">Switzerland</div>
<div class="t" style="left:2050.00px;top:1032.37px;font-size:33px;color:#808080;font-family:'Liberation Sans', sans-serif;letter-spacing:1.493px;">30</div>
<div class="t" style="left:2050.00px;top:1093.97px;font-size:33px;color:#808080;font-family:'Liberation Sans', sans-serif;letter-spacing:1.493px;">15</div>
<div class="t" style="left:163.03px;top:1020.52px;font-size:39.5px;color:#000;font-family:'Liberation Serif', serif;font-weight:700;font-style:italic;">3</div>
<div class="t" style="left:214.50px;top:1023.07px;font-size:35px;color:#3B4A54;font-family:'Liberation Sans', sans-serif;">France</div>
<div class="t" style="left:2050.00px;top:1293.37px;font-size:33px;color:#808080;font-family:'Liberation Sans', sans-serif;letter-spacing:1.493px;">30</div>
<div class="t" style="left:2050.00px;top:1354.97px;font-size:33px;color:#808080;font-family:'Liberation Sans', sans-serif;letter-spacing:1.493px;">15</div>
<div class="t" style="left:163.03px;top:1281.52px;font-size:39.5px;color:#000;font-family:'Liberation Serif', serif;font-weight:700;font-style:italic;">4</div>
<div class="t" style="left:214.50px;top:1284.07px;font-size:35px;color:#3B4A54;font-family:'Liberation Sans', sans-serif;letter-spacing:0.266px;">United Kingdom</div>
<div class="t" style="left:2050.00px;top:1554.37px;font-size:33px;color:#808080;font-family:'Liberation Sans', sans-serif;letter-spacing:1.493px;">30</div>
<div class="t" style="left:2050.00px;top:1615.97px;font-size:33px;color:#808080;font-family:'Liberation Sans', sans-serif;letter-spacing:1.493px;">15</div>
<div class="t" style="left:163.03px;top:1542.52px;font-size:39.5px;color:#000;font-family:'Liberation Serif', serif;font-weight:700;font-style:italic;">5</div>
<div class="t" style="left:214.50px;top:1545.07px;font-size:35px;color:#3B4A54;font-family:'Liberation Sans', sans-serif;">Austria</div>
<div class="t" style="left:2050.00px;top:1815.37px;font-size:33px;color:#808080;font-family:'Liberation Sans', sans-serif;letter-spacing:1.493px;">30</div>
<div class="t" style="left:2050.00px;top:1876.97px;font-size:33px;color:#808080;font-family:'Liberation Sans', sans-serif;letter-spacing:1.493px;">15</div>
<div class="t" style="left:163.03px;top:1803.52px;font-size:39.5px;color:#000;font-family:'Liberation Serif', serif;font-weight:700;font-style:italic;">6</div>
<div class="t" style="left:214.50px;top:1806.07px;font-size:35px;color:#3B4A54;font-family:'Liberation Sans', sans-serif;">Germany</div>
<div class="t" style="left:187.97px;top:1989.47px;font-size:33px;color:#808080;font-family:'Liberation Sans', sans-serif;letter-spacing:1.909px;">May/8</div>
<div class="t" style="left:1256.48px;top:1989.47px;font-size:33px;color:#808080;font-family:'Liberation Sans', sans-serif;letter-spacing:0.818px;">Jun/1</div>
<div class="t" style="left:1521.92px;top:1989.47px;font-size:33px;color:#808080;font-family:'Liberation Sans', sans-serif;letter-spacing:0.818px;">Jun/7</div>
<div class="t" style="left:1956.57px;top:1989.47px;font-size:33px;color:#808080;font-family:'Liberation Sans', sans-serif;letter-spacing:0.084px;">Jun/17</div>
<div class="t" style="left:882.90px;top:566.62px;font-size:34px;color:#3B4A54;font-family:'Liberation Sans', sans-serif;letter-spacing:0.566px;">WHO air quality guideline*</div>
<div class="t" style="left:142.40px;top:2091.72px;font-size:34px;color:#A6A6A6;font-family:'Liberation Sans', sans-serif;letter-spacing:0.552px;">*World Health Organization 24-hour average air quality guidelines, <15µg/m</div>
<div class="t" style="left:1327.10px;top:2092.12px;font-size:21px;color:#A6A6A6;font-family:'Liberation Sans', sans-serif;">3</div>
<div class="t" style="left:1347.90px;top:2091.72px;font-size:34px;color:#A6A6A6;font-family:'Liberation Sans', sans-serif;letter-spacing:0.350px;">(2021), who.int.</div>
<div class="t" style="left:140.80px;top:2131.22px;font-size:34px;color:#A6A6A6;font-family:'Liberation Sans', sans-serif;letter-spacing:0.292px;">Source: Airthings, 2025</div>
<div class="t" style="left:1791.90px;top:2099.87px;font-size:48px;color:#808080;font-family:'Liberation Sans', sans-serif;font-weight:700;letter-spacing:-0.433px;">AIR</div>
<div class="t" style="left:1874.90px;top:2099.87px;font-size:48px;color:#808080;font-family:'Liberation Sans', sans-serif;letter-spacing:-2.128px;">THINGS</div>
<div class="t" style="left:3458.17px;top:1605.88px;font-size:40.5px;color:#000;font-family:'Liberation Serif', serif;font-weight:700;font-style:italic;">1</div>
<div class="t" style="left:3280.67px;top:1388.98px;font-size:40.5px;color:#000;font-family:'Liberation Serif', serif;font-weight:700;font-style:italic;">2</div>
<div class="t" style="left:3000.77px;top:1408.18px;font-size:40.5px;color:#000;font-family:'Liberation Serif', serif;font-weight:700;font-style:italic;">3</div>
<div class="t" style="left:2817.77px;top:1015.68px;font-size:40.5px;color:#000;font-family:'Liberation Serif', serif;font-weight:700;font-style:italic;">4</div>
<div class="t" style="left:3605.67px;top:1337.28px;font-size:40.5px;color:#000;font-family:'Liberation Serif', serif;font-weight:700;font-style:italic;">5</div>
<div class="t" style="left:3357.07px;top:1121.08px;font-size:40.5px;color:#000;font-family:'Liberation Serif', serif;font-weight:700;font-style:italic;">6</div>

</body></html>
